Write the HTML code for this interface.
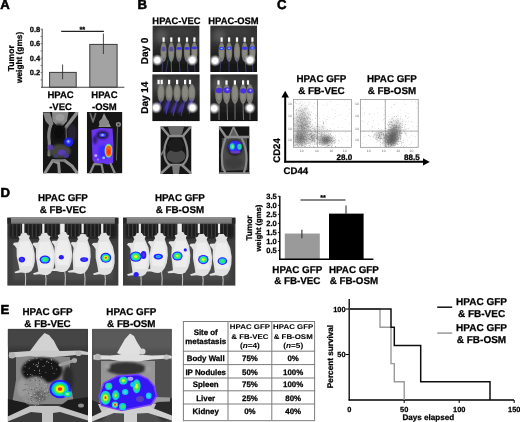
<!DOCTYPE html>
<html><head><meta charset="utf-8"><style>
html,body{margin:0;padding:0;background:#fff;}
svg{display:block;}
</style></head><body>
<svg width="520" height="422" viewBox="0 0 520 422" font-family="Liberation Sans" text-rendering="geometricPrecision">
<defs><filter id="gb" x="0" y="0" width="100%" height="100%" filterUnits="userSpaceOnUse"><feGaussianBlur stdDeviation="0.4"/></filter></defs>
<g filter="url(#gb)">
<rect x="0" y="0" width="520" height="422" fill="#fff"/>
<defs>
<filter id="b05" x="-50%" y="-50%" width="200%" height="200%"><feGaussianBlur stdDeviation="0.5"/></filter>
<filter id="b1" x="-50%" y="-50%" width="200%" height="200%"><feGaussianBlur stdDeviation="0.9"/></filter>
<filter id="b2" x="-50%" y="-50%" width="200%" height="200%"><feGaussianBlur stdDeviation="1.6"/></filter>
<filter id="b3" x="-50%" y="-50%" width="200%" height="200%"><feGaussianBlur stdDeviation="2.8"/></filter>
<radialGradient id="glow"><stop offset="0" stop-color="#fff"/><stop offset="0.45" stop-color="#fff"/><stop offset="0.7" stop-color="#ddd" stop-opacity="0.6"/><stop offset="1" stop-color="#bbb" stop-opacity="0"/></radialGradient>
<linearGradient id="hazeB" x1="0" y1="0" x2="0" y2="1"><stop offset="0" stop-color="#2e2e2e"/><stop offset="0.3" stop-color="#383838"/><stop offset="0.55" stop-color="#262626"/><stop offset="1" stop-color="#111"/></linearGradient>
<clipPath id="cA1"><rect x="42.8" y="111.9" width="35.5" height="61.5"/></clipPath>
<clipPath id="cA2"><rect x="86.8" y="111.9" width="35.6" height="61.5"/></clipPath>
<clipPath id="cB1"><rect x="152.4" y="25.4" width="47.2" height="46.6"/></clipPath>
<clipPath id="cB2"><rect x="210.2" y="25.4" width="47.0" height="46.6"/></clipPath>
<clipPath id="cB3"><rect x="152.2" y="74.2" width="47.6" height="47.1"/></clipPath>
<clipPath id="cB4"><rect x="210.2" y="74.2" width="47.6" height="47.1"/></clipPath>
<clipPath id="cB5"><rect x="160.4" y="126.2" width="31.1" height="47.8"/></clipPath>
<clipPath id="cB6"><rect x="218.8" y="126.2" width="30.8" height="47.8"/></clipPath>
<clipPath id="cD1"><rect x="7.2" y="217.4" width="111.4" height="68.4"/></clipPath>
<clipPath id="cD2"><rect x="123.0" y="217.4" width="112.6" height="68.4"/></clipPath>
<clipPath id="cE1"><rect x="7.7" y="328.8" width="80.3" height="93.2"/></clipPath>
<clipPath id="cE2"><rect x="92.0" y="328.8" width="79.9" height="93.2"/></clipPath>
</defs>
<g clip-path="url(#cA1)">
<rect x="42.80" y="111.90" width="35.50" height="61.50" fill="#151515" />
<g filter="url(#b05)">
<path d="M52,112 L68.5,112 L67,121 L62.5,126 L57,126 L52.5,121 Z" fill="#8a8a8a" />
<ellipse cx="60.00" cy="117.50" rx="4.50" ry="3.50" fill="#9c9c9c" />
<path d="M43,112.5 L50,112.5 L53.5,124 L50.5,127 L45.5,121 Z" fill="#838383" />
</g>
<g filter="url(#b05)">
<path d="M76.8,113 L66.3,127" fill="none" stroke="#8e8e8e" stroke-width="3.6" stroke-linecap="round" stroke-linejoin="round" />
<path d="M50.8,125 Q47.8,133 49.2,141 Q50,148 49,155" fill="none" stroke="#828282" stroke-width="3.2" stroke-linecap="round" stroke-linejoin="round" />
<path d="M66,127 L66.5,140" fill="none" stroke="#707070" stroke-width="1.4" stroke-linecap="round" stroke-linejoin="round" />
<path d="M44.5,173.8 L52.8,160.5 L58.6,163 L59.4,173" fill="none" stroke="#909090" stroke-width="3.0" stroke-linecap="round" stroke-linejoin="round" />
<path d="M64.5,160.5 L72,166 L77.8,173.8" fill="none" stroke="#909090" stroke-width="3.0" stroke-linecap="round" stroke-linejoin="round" />
<path d="M52.8,160.5 L64.5,160.5" fill="none" stroke="#808080" stroke-width="2.4" stroke-linecap="round" stroke-linejoin="round" />
</g>
<g filter="url(#b1)">
<ellipse cx="59.00" cy="132.00" rx="6.00" ry="8.00" fill="#0c0c0c" />
<ellipse cx="60.00" cy="151.00" rx="11.00" ry="7.00" fill="#45453a" />
<ellipse cx="72.00" cy="133.00" rx="5.00" ry="9.00" fill="#28222e" />
</g>
<g filter="url(#b05)" opacity="0.85">
<ellipse cx="50.30" cy="147.50" rx="3.00" ry="3.00" fill="#5638b8" />
<ellipse cx="61.90" cy="152.40" rx="4.00" ry="3.00" fill="#5a3ac8" />
<ellipse cx="66.00" cy="155.50" rx="3.00" ry="2.40" fill="#4a34a8" />
<ellipse cx="56.00" cy="156.00" rx="2.50" ry="2.00" fill="#404078" />
</g>
<g filter="url(#b05)">
<ellipse cx="68.60" cy="142.10" rx="4.60" ry="4.60" fill="#1e1ee8" />
<ellipse cx="68.40" cy="141.60" rx="2.20" ry="2.20" fill="#5060ff" />
<ellipse cx="68.30" cy="141.30" rx="0.90" ry="0.90" fill="#c0d0ff" />
</g>
</g>
<g clip-path="url(#cA2)">
<rect x="86.80" y="111.90" width="35.60" height="61.50" fill="#171717" />
<g filter="url(#b05)">
<path d="M104,113 L111,127 L98.5,127 Z" fill="#939393" />
<ellipse cx="104.00" cy="122.50" rx="5.00" ry="4.00" fill="#888" />
<path d="M90.3,113.5 L93,122 L95.6,113.5" fill="none" stroke="#6e6e6e" stroke-width="1.6" stroke-linecap="round" stroke-linejoin="round" />
<ellipse cx="118.40" cy="124.40" rx="2.60" ry="2.40" fill="#8a8a8a" />
<ellipse cx="118.40" cy="124.40" rx="1.10" ry="1.00" fill="#2a2a2a" />
<path d="M117.5,126.5 L116.5,160" fill="none" stroke="#5a6a5a" stroke-width="1.0" stroke-linecap="round" stroke-linejoin="round" />
</g>
<g filter="url(#b05)">
<path d="M91.5,130 L100,128 L112.5,128.5 L113.5,145 L113.2,163 L108,164.5 L101.5,163 L95,164 L92.5,160 L92,145 Z" fill="#6a36f0" />
</g>
<g filter="url(#b1)">
<ellipse cx="102.50" cy="135.00" rx="6.00" ry="4.00" fill="#1a1238" />
<ellipse cx="103.00" cy="152.00" rx="5.00" ry="7.00" fill="#3a2cff" />
<ellipse cx="95.00" cy="140.00" rx="2.20" ry="4.00" fill="#2a1a70" />
</g>
<g filter="url(#b05)">
<ellipse cx="102.50" cy="135.00" rx="3.50" ry="2.00" fill="#3a40ff" />
<ellipse cx="102.50" cy="135.00" rx="1.40" ry="0.90" fill="#a0b0ff" />
<ellipse cx="108.50" cy="150.80" rx="4.00" ry="7.00" fill="#30d0e0" />
<ellipse cx="108.50" cy="150.80" rx="3.50" ry="6.40" fill="#c0e040" />
<ellipse cx="108.60" cy="151.00" rx="2.90" ry="5.60" fill="#ff6018" />
<ellipse cx="108.80" cy="152.00" rx="1.60" ry="2.40" fill="#ff3010" />
<ellipse cx="95.80" cy="155.40" rx="1.50" ry="1.50" fill="#b8a8ff" />
<ellipse cx="103.70" cy="157.80" rx="1.40" ry="1.40" fill="#80c8ff" />
<ellipse cx="97.90" cy="159.50" rx="1.00" ry="1.00" fill="#a090ff" />
</g>
<g filter="url(#b05)">
<path d="M90,173.5 L94.1,164 L101.6,164.5 L103.3,173.5" fill="none" stroke="#8a8a8a" stroke-width="2.2" stroke-linecap="round" stroke-linejoin="round" />
<path d="M110.7,164 L114.9,173.5" fill="none" stroke="#8a8a8a" stroke-width="2.2" stroke-linecap="round" stroke-linejoin="round" />
</g>
</g>
<g clip-path="url(#cB1)">
<rect x="152.40" y="25.40" width="47.20" height="46.60" fill="url(#hazeB)" />
<g filter="url(#b3)">
<ellipse cx="161.40" cy="35.40" rx="6.00" ry="7.00" fill="#555" />
<ellipse cx="180.00" cy="31.40" rx="14.00" ry="4.00" fill="#3c3c3c" />
</g>
<g filter="url(#b05)">
<ellipse cx="163.60" cy="52.00" rx="3.10" ry="10.00" fill="#7a7972" />
<ellipse cx="163.60" cy="51.00" rx="2.07" ry="7.00" fill="#8a8980" />
<ellipse cx="171.30" cy="52.00" rx="3.10" ry="10.00" fill="#7a7972" />
<ellipse cx="171.30" cy="51.00" rx="2.07" ry="7.00" fill="#8a8980" />
<ellipse cx="179.00" cy="52.00" rx="3.10" ry="10.00" fill="#7a7972" />
<ellipse cx="179.00" cy="51.00" rx="2.07" ry="7.00" fill="#8a8980" />
<ellipse cx="187.00" cy="52.00" rx="3.10" ry="10.00" fill="#7a7972" />
<ellipse cx="187.00" cy="51.00" rx="2.07" ry="7.00" fill="#8a8980" />
<ellipse cx="194.40" cy="52.00" rx="3.10" ry="10.00" fill="#7a7972" />
<ellipse cx="194.40" cy="51.00" rx="2.07" ry="7.00" fill="#8a8980" />
</g>
<g filter="url(#b05)">
<line x1="163.00" y1="58.00" x2="162.00" y2="72.00" stroke="#54509a" stroke-width="0.7"/>
<line x1="171.00" y1="56.00" x2="171.50" y2="72.00" stroke="#50b0a0" stroke-width="0.6"/>
<line x1="179.00" y1="58.00" x2="180.00" y2="72.00" stroke="#4a48c0" stroke-width="0.8"/>
<line x1="187.00" y1="58.00" x2="188.00" y2="72.00" stroke="#4a48b0" stroke-width="0.8"/>
<line x1="194.00" y1="58.00" x2="195.00" y2="72.00" stroke="#55558a" stroke-width="0.6"/>
<line x1="168.00" y1="60.00" x2="166.00" y2="72.00" stroke="#5a4a90" stroke-width="0.6"/>
</g>
<g filter="url(#b1)">
</g>
<g filter="url(#b05)">
<ellipse cx="163.60" cy="49.00" rx="2.20" ry="2.60" fill="#5a52a0" />
<ellipse cx="171.30" cy="49.00" rx="2.20" ry="2.60" fill="#55509a" />
<ellipse cx="179.00" cy="48.50" rx="2.80" ry="1.40" fill="#3a38e0" />
<ellipse cx="187.00" cy="48.50" rx="2.80" ry="1.40" fill="#3a38e0" />
<ellipse cx="194.40" cy="48.00" rx="2.80" ry="1.40" fill="#3a38e0" />
</g>
<g filter="url(#b05)">
<rect x="162.50" y="37.40" width="2.20" height="4.40" fill="#fafafa" />
<rect x="170.20" y="37.40" width="2.20" height="4.40" fill="#fafafa" />
<rect x="177.90" y="37.40" width="2.20" height="4.40" fill="#fafafa" />
<rect x="185.90" y="37.40" width="2.20" height="4.40" fill="#fafafa" />
<rect x="193.30" y="37.40" width="2.20" height="4.40" fill="#fafafa" />
</g>
<ellipse cx="157.30" cy="60.20" rx="6.05" ry="6.05" fill="url(#glow)" />
<ellipse cx="192.20" cy="60.20" rx="6.05" ry="6.05" fill="url(#glow)" />
</g>
<g clip-path="url(#cB2)">
<rect x="210.20" y="25.40" width="47.00" height="46.60" fill="url(#hazeB)" />
<g filter="url(#b3)">
<ellipse cx="219.20" cy="35.40" rx="6.00" ry="7.00" fill="#555" />
<ellipse cx="237.70" cy="31.40" rx="14.00" ry="4.00" fill="#3c3c3c" />
</g>
<g filter="url(#b05)">
<ellipse cx="221.60" cy="52.00" rx="3.10" ry="10.00" fill="#7a7972" />
<ellipse cx="221.60" cy="51.00" rx="2.07" ry="7.00" fill="#8a8980" />
<ellipse cx="229.10" cy="52.00" rx="3.10" ry="10.00" fill="#7a7972" />
<ellipse cx="229.10" cy="51.00" rx="2.07" ry="7.00" fill="#8a8980" />
<ellipse cx="237.00" cy="52.00" rx="3.10" ry="10.00" fill="#7a7972" />
<ellipse cx="237.00" cy="51.00" rx="2.07" ry="7.00" fill="#8a8980" />
<ellipse cx="244.70" cy="52.00" rx="3.10" ry="10.00" fill="#7a7972" />
<ellipse cx="244.70" cy="51.00" rx="2.07" ry="7.00" fill="#8a8980" />
<ellipse cx="252.40" cy="52.00" rx="3.10" ry="10.00" fill="#7a7972" />
<ellipse cx="252.40" cy="51.00" rx="2.07" ry="7.00" fill="#8a8980" />
</g>
<g filter="url(#b05)">
<line x1="221.00" y1="58.00" x2="220.00" y2="72.00" stroke="#50509a" stroke-width="0.6"/>
<line x1="229.00" y1="58.00" x2="229.00" y2="72.00" stroke="#4a4ab0" stroke-width="0.6"/>
<line x1="237.00" y1="58.00" x2="238.00" y2="72.00" stroke="#4a48c0" stroke-width="0.8"/>
<line x1="245.00" y1="58.00" x2="246.00" y2="72.00" stroke="#4a48b0" stroke-width="0.8"/>
<line x1="252.00" y1="58.00" x2="253.00" y2="72.00" stroke="#5a5a8a" stroke-width="0.6"/>
</g>
<g filter="url(#b1)">
</g>
<g filter="url(#b05)">
<ellipse cx="221.60" cy="48.50" rx="2.80" ry="1.70" fill="#3a38f0" />
<ellipse cx="229.10" cy="48.30" rx="2.80" ry="1.70" fill="#3a38f0" />
<ellipse cx="244.70" cy="48.30" rx="2.80" ry="1.70" fill="#3a38f0" />
<ellipse cx="252.40" cy="48.00" rx="2.80" ry="1.70" fill="#3a38f0" />
<ellipse cx="221.60" cy="48.50" rx="1.20" ry="0.70" fill="#60c8ff" />
<ellipse cx="229.10" cy="48.30" rx="1.20" ry="0.70" fill="#60c8ff" />
<ellipse cx="252.40" cy="48.00" rx="1.20" ry="0.70" fill="#60c8ff" />
</g>
<g filter="url(#b05)">
<rect x="220.50" y="37.40" width="2.20" height="4.40" fill="#fafafa" />
<rect x="228.00" y="37.40" width="2.20" height="4.40" fill="#fafafa" />
<rect x="235.90" y="37.40" width="2.20" height="4.40" fill="#fafafa" />
<rect x="243.60" y="37.40" width="2.20" height="4.40" fill="#fafafa" />
<rect x="251.30" y="37.40" width="2.20" height="4.40" fill="#fafafa" />
</g>
<ellipse cx="215.10" cy="60.70" rx="6.05" ry="6.05" fill="url(#glow)" />
<ellipse cx="250.00" cy="60.20" rx="6.05" ry="6.05" fill="url(#glow)" />
</g>
<g clip-path="url(#cB3)">
<rect x="152.20" y="74.20" width="47.60" height="47.10" fill="url(#hazeB)" />
<g filter="url(#b3)">
<ellipse cx="161.20" cy="84.20" rx="6.00" ry="7.00" fill="#555" />
<ellipse cx="180.00" cy="80.20" rx="14.00" ry="4.00" fill="#3c3c3c" />
</g>
<g filter="url(#b05)">
<ellipse cx="161.00" cy="93.00" rx="3.60" ry="9.00" fill="#7a7972" />
<ellipse cx="161.00" cy="92.00" rx="2.40" ry="6.00" fill="#8a8980" />
<ellipse cx="169.10" cy="93.00" rx="3.60" ry="9.00" fill="#7a7972" />
<ellipse cx="169.10" cy="92.00" rx="2.40" ry="6.00" fill="#8a8980" />
<ellipse cx="177.10" cy="93.00" rx="3.60" ry="9.00" fill="#7a7972" />
<ellipse cx="177.10" cy="92.00" rx="2.40" ry="6.00" fill="#8a8980" />
<ellipse cx="185.10" cy="93.00" rx="3.60" ry="9.00" fill="#7a7972" />
<ellipse cx="185.10" cy="92.00" rx="2.40" ry="6.00" fill="#8a8980" />
<ellipse cx="191.80" cy="93.00" rx="3.60" ry="9.00" fill="#7a7972" />
<ellipse cx="191.80" cy="92.00" rx="2.40" ry="6.00" fill="#8a8980" />
</g>
<g filter="url(#b05)">
<line x1="161.00" y1="100.00" x2="158.00" y2="112.00" stroke="#5a50b0" stroke-width="0.8"/>
<line x1="169.00" y1="100.00" x2="166.00" y2="114.00" stroke="#5048c0" stroke-width="0.9"/>
<line x1="177.00" y1="100.00" x2="173.00" y2="116.00" stroke="#5048b8" stroke-width="0.9"/>
<line x1="185.00" y1="100.00" x2="181.00" y2="116.00" stroke="#5048b0" stroke-width="0.8"/>
<line x1="192.00" y1="100.00" x2="189.00" y2="114.00" stroke="#5a50b8" stroke-width="0.8"/>
</g>
<g filter="url(#b1)">
<ellipse cx="158" cy="106" rx="1.3" ry="4" fill="#5a48c8" transform="rotate(25 158 106)"/>
<ellipse cx="167" cy="106" rx="1.8" ry="6" fill="#4a38c8" transform="rotate(20 167 106)"/>
<ellipse cx="174" cy="108" rx="1.6" ry="6" fill="#4a38b0" transform="rotate(25 174 108)"/>
<ellipse cx="181" cy="108" rx="1.6" ry="6" fill="#4a38b0" transform="rotate(25 181 108)"/>
<ellipse cx="190" cy="104" rx="1.6" ry="5" fill="#5a48c8" transform="rotate(20 190 104)"/>
</g>
<g filter="url(#b05)">
</g>
<g filter="url(#b05)">
<rect x="157.50" y="79.80" width="2.20" height="4.40" fill="#fafafa" />
<rect x="160.60" y="79.80" width="2.20" height="4.40" fill="#fafafa" />
<rect x="168.00" y="79.80" width="2.20" height="4.40" fill="#fafafa" />
<rect x="176.00" y="79.80" width="2.20" height="4.40" fill="#fafafa" />
<rect x="184.00" y="79.80" width="2.20" height="4.40" fill="#fafafa" />
<rect x="188.90" y="79.80" width="2.20" height="4.40" fill="#fafafa" />
</g>
<ellipse cx="156.20" cy="107.70" rx="6.05" ry="6.05" fill="url(#glow)" />
<ellipse cx="192.50" cy="107.70" rx="6.05" ry="6.05" fill="url(#glow)" />
</g>
<g clip-path="url(#cB4)">
<rect x="210.20" y="74.20" width="47.60" height="47.10" fill="url(#hazeB)" />
<g filter="url(#b3)">
<ellipse cx="219.20" cy="84.20" rx="6.00" ry="7.00" fill="#555" />
<ellipse cx="238.00" cy="80.20" rx="14.00" ry="4.00" fill="#3c3c3c" />
</g>
<g filter="url(#b05)">
<ellipse cx="218.80" cy="94.00" rx="3.60" ry="10.00" fill="#7a7972" />
<ellipse cx="218.80" cy="93.00" rx="2.40" ry="7.00" fill="#8a8980" />
<ellipse cx="226.60" cy="94.00" rx="3.60" ry="10.00" fill="#7a7972" />
<ellipse cx="226.60" cy="93.00" rx="2.40" ry="7.00" fill="#8a8980" />
<ellipse cx="234.90" cy="94.00" rx="3.60" ry="10.00" fill="#7a7972" />
<ellipse cx="234.90" cy="93.00" rx="2.40" ry="7.00" fill="#8a8980" />
<ellipse cx="243.10" cy="94.00" rx="3.60" ry="10.00" fill="#7a7972" />
<ellipse cx="243.10" cy="93.00" rx="2.40" ry="7.00" fill="#8a8980" />
<ellipse cx="249.80" cy="94.00" rx="3.60" ry="10.00" fill="#7a7972" />
<ellipse cx="249.80" cy="93.00" rx="2.40" ry="7.00" fill="#8a8980" />
</g>
<g filter="url(#b05)">
<line x1="219.00" y1="102.00" x2="219.00" y2="120.00" stroke="#8a8a8a" stroke-width="0.8"/>
<line x1="227.00" y1="102.00" x2="227.50" y2="120.00" stroke="#8a8a8a" stroke-width="0.8"/>
<line x1="235.00" y1="102.00" x2="235.00" y2="120.00" stroke="#8a8a8a" stroke-width="0.8"/>
<line x1="243.00" y1="102.00" x2="243.50" y2="120.00" stroke="#8a8a8a" stroke-width="0.8"/>
<line x1="250.00" y1="102.00" x2="250.00" y2="120.00" stroke="#7a7a7a" stroke-width="0.8"/>
</g>
<g filter="url(#b1)">
</g>
<g filter="url(#b05)">
<ellipse cx="219.00" cy="90.50" rx="3.40" ry="2.80" fill="#4a30dc" />
<ellipse cx="227.00" cy="90.20" rx="3.60" ry="3.00" fill="#4a30dc" />
<ellipse cx="243.30" cy="90.80" rx="3.20" ry="2.60" fill="#4a30dc" />
<ellipse cx="250.00" cy="90.80" rx="3.00" ry="2.60" fill="#4a30dc" />
<ellipse cx="227.50" cy="89.50" rx="1.20" ry="1.00" fill="#a0c0ff" />
<ellipse cx="250.50" cy="90.50" rx="1.00" ry="1.00" fill="#a0c0ff" />
</g>
<g filter="url(#b05)">
<rect x="217.40" y="80.30" width="2.20" height="4.40" fill="#fafafa" />
<rect x="225.40" y="80.30" width="2.20" height="4.40" fill="#fafafa" />
<rect x="233.80" y="80.30" width="2.20" height="4.40" fill="#fafafa" />
<rect x="242.00" y="80.30" width="2.20" height="4.40" fill="#fafafa" />
<rect x="246.90" y="80.30" width="2.20" height="4.40" fill="#fafafa" />
</g>
<ellipse cx="214.20" cy="108.40" rx="6.05" ry="6.05" fill="url(#glow)" />
<ellipse cx="249.90" cy="108.00" rx="6.05" ry="6.05" fill="url(#glow)" />
</g>
<g clip-path="url(#cB5)">
<rect x="160.40" y="126.20" width="31.10" height="47.80" fill="#121212" />
<g filter="url(#b05)">
<ellipse cx="176.00" cy="156.00" rx="9.50" ry="7.00" fill="#4a4a4a" />
<ellipse cx="176.00" cy="145.00" rx="8.00" ry="7.00" fill="#1c1c1c" />
<path d="M168,127 L184,127 L182,134 L176,137 L170,134 Z" fill="#6a6a6a" />
<path d="M161.5,127 L169,136 L183,136 L190.5,127" fill="none" stroke="#8c8c8c" stroke-width="2.6" stroke-linecap="round" stroke-linejoin="round" />
<path d="M169,136 Q163,146 164.5,156 Q166,163 170,165" fill="none" stroke="#8a8a8a" stroke-width="2.2" stroke-linecap="round" stroke-linejoin="round" />
<path d="M183,136 Q188,146 187.5,156 Q186,163 182,165" fill="none" stroke="#8a8a8a" stroke-width="2.2" stroke-linecap="round" stroke-linejoin="round" />
<path d="M161,173.5 L170,165 L182,165 L191,173.5" fill="none" stroke="#8c8c8c" stroke-width="2.6" stroke-linecap="round" stroke-linejoin="round" />
<path d="M164,150 L161,155" fill="none" stroke="#7a7a7a" stroke-width="1.6" stroke-linecap="round" stroke-linejoin="round" />
<path d="M172,165 L180,165 L179,174 L173,174 Z" fill="#7a7a7a" />
</g>
</g>
<g clip-path="url(#cB6)">
<rect x="218.80" y="126.20" width="30.80" height="47.80" fill="#141414" />
<g filter="url(#b05)">
<path d="M222,138 L247,137 L247.5,170 L221,171 Z" fill="#4a4a4a" />
<path d="M228.5,138 L233.5,126.8 L239,138 Z" fill="#5e5e5e" />
<path d="M228.5,138 L233.5,126.8 L239,138" fill="none" stroke="#8a8a8a" stroke-width="1.6" stroke-linecap="round" stroke-linejoin="round" />
<path d="M219.5,127.5 L226,137 L241,137 L249.5,137" fill="none" stroke="#8c8c8c" stroke-width="2.4" stroke-linecap="round" stroke-linejoin="round" />
<path d="M226,137 Q221,150 222,160 Q222,168 225,172" fill="none" stroke="#8a8a8a" stroke-width="2.2" stroke-linecap="round" stroke-linejoin="round" />
<path d="M241,137 Q247,148 246.5,160 Q246,168 244,172" fill="none" stroke="#8a8a8a" stroke-width="2.2" stroke-linecap="round" stroke-linejoin="round" />
<path d="M220,173.5 L249,173.5" fill="none" stroke="#909090" stroke-width="2.5" stroke-linecap="round" stroke-linejoin="round" />
</g>
<g filter="url(#b1)">
<ellipse cx="235.00" cy="148.00" rx="8.00" ry="8.00" fill="#202020" />
<ellipse cx="234.00" cy="163.00" rx="9.00" ry="6.00" fill="#3e3e3e" />
</g>
<g filter="url(#b05)">
<ellipse cx="235.10" cy="147.00" rx="7.00" ry="6.50" fill="#3a2ae0" />
<ellipse cx="235.10" cy="147.00" rx="5.50" ry="5.00" fill="#2a30ff" />
<ellipse cx="232.30" cy="146.50" rx="2.40" ry="3.20" fill="#20d0c0" />
<ellipse cx="239.50" cy="146.80" rx="2.20" ry="3.00" fill="#20d0b0" />
<ellipse cx="232.50" cy="146.50" rx="1.20" ry="1.60" fill="#80f080" />
<ellipse cx="235.50" cy="152.00" rx="5.00" ry="1.60" fill="#6a3ac0" />
</g>
</g>
<g clip-path="url(#cD1)">
<rect x="7.20" y="217.40" width="111.40" height="68.40" fill="#3e3e3e" />
<g filter="url(#b2)">
<rect x="9.20" y="223.40" width="107.40" height="15.00" fill="#1a1a1a" />
<rect x="13.20" y="247.40" width="99.40" height="32.40" fill="#4c4c4c" />
</g>
<rect x="12.20" y="223.90" width="1.30" height="13.00" fill="#3c3c3c" />
<rect x="16.10" y="223.90" width="1.30" height="13.00" fill="#3c3c3c" />
<rect x="20.00" y="223.90" width="1.30" height="13.00" fill="#3c3c3c" />
<rect x="23.90" y="223.90" width="1.30" height="13.00" fill="#3c3c3c" />
<rect x="27.80" y="223.90" width="1.30" height="13.00" fill="#3c3c3c" />
<rect x="31.70" y="223.90" width="1.30" height="13.00" fill="#3c3c3c" />
<rect x="35.60" y="223.90" width="1.30" height="13.00" fill="#3c3c3c" />
<rect x="39.50" y="223.90" width="1.30" height="13.00" fill="#3c3c3c" />
<rect x="43.40" y="223.90" width="1.30" height="13.00" fill="#3c3c3c" />
<rect x="47.30" y="223.90" width="1.30" height="13.00" fill="#3c3c3c" />
<rect x="51.20" y="223.90" width="1.30" height="13.00" fill="#3c3c3c" />
<rect x="55.10" y="223.90" width="1.30" height="13.00" fill="#3c3c3c" />
<rect x="59.00" y="223.90" width="1.30" height="13.00" fill="#3c3c3c" />
<rect x="62.90" y="223.90" width="1.30" height="13.00" fill="#3c3c3c" />
<rect x="66.80" y="223.90" width="1.30" height="13.00" fill="#3c3c3c" />
<rect x="70.70" y="223.90" width="1.30" height="13.00" fill="#3c3c3c" />
<rect x="74.60" y="223.90" width="1.30" height="13.00" fill="#3c3c3c" />
<rect x="78.50" y="223.90" width="1.30" height="13.00" fill="#3c3c3c" />
<rect x="82.40" y="223.90" width="1.30" height="13.00" fill="#3c3c3c" />
<rect x="86.30" y="223.90" width="1.30" height="13.00" fill="#3c3c3c" />
<rect x="90.20" y="223.90" width="1.30" height="13.00" fill="#3c3c3c" />
<rect x="94.10" y="223.90" width="1.30" height="13.00" fill="#3c3c3c" />
<rect x="98.00" y="223.90" width="1.30" height="13.00" fill="#3c3c3c" />
<rect x="101.90" y="223.90" width="1.30" height="13.00" fill="#3c3c3c" />
<rect x="105.80" y="223.90" width="1.30" height="13.00" fill="#3c3c3c" />
<rect x="109.70" y="223.90" width="1.30" height="13.00" fill="#3c3c3c" />
<rect x="7.20" y="217.40" width="111.40" height="6.30" fill="#262626" />
<rect x="11.00" y="217.40" width="103.80" height="6.30" fill="#7e7e7e" />
<rect x="11.00" y="217.40" width="103.80" height="1.50" fill="#8e8e8e" />
<rect x="11.00" y="222.70" width="103.80" height="1.00" fill="#5a5a5a" />
<rect x="22.10" y="223.70" width="2.20" height="9.50" fill="#ececec" />
<rect x="42.20" y="223.70" width="2.20" height="9.50" fill="#ececec" />
<rect x="60.15" y="223.70" width="4.50" height="9.50" fill="#ececec" />
<rect x="81.50" y="223.70" width="2.20" height="9.50" fill="#ececec" />
<rect x="101.10" y="223.70" width="2.20" height="9.50" fill="#ececec" />
<g filter="url(#b05)">
<path d="M24.8,269.0 Q26.3,278.0 25.3,286.8" fill="none" stroke="#c8c8c8" stroke-width="1"/>
<path d="M-2.2,0 L2.2,0 L3.6,2.5 L5.5,3 L4.5,5.5 L5.5,8 L7.5,13 L8.5,21 L8,28 L6.5,33 L4,37 L1,38.5 L-2,38.5 L-6,37.5 L-11,37.8 L-12,36.5 L-7,35 L-7.5,30 L-8.5,22 L-8,14 L-9.5,11.5 L-11,10 L-10,8.5 L-6,8.5 L-4.5,5.5 L-5.5,3 L-3.6,2.5 Z" fill="#e2e2e2" transform="translate(23.80,233.00) rotate(-5) scale(1.070,1.040)"/>
<path d="M-4,8 L4,8 L7,20 L5,32 L-5,32 L-7,20 Z" fill="#ededed" transform="translate(23.80,233.00) rotate(-5) scale(1.070,1.040)"/>
<path d="M45.2,270.8 Q46.7,280.2 45.7,286.8" fill="none" stroke="#c8c8c8" stroke-width="1"/>
<path d="M-2.2,0 L2.2,0 L3.6,2.5 L5.5,3 L4.5,5.5 L5.5,8 L7.5,13 L8.5,21 L8,28 L6.5,33 L4,37 L1,38.5 L-2,38.5 L-6,37.5 L-11,37.8 L-12,36.5 L-7,35 L-7.5,30 L-8.5,22 L-8,14 L-9.5,11.5 L-11,10 L-10,8.5 L-6,8.5 L-4.5,5.5 L-5.5,3 L-3.6,2.5 Z" fill="#e2e2e2" transform="translate(44.20,233.00) rotate(-3) scale(1.124,1.092)"/>
<path d="M-4,8 L4,8 L7,20 L5,32 L-5,32 L-7,20 Z" fill="#ededed" transform="translate(44.20,233.00) rotate(-3) scale(1.124,1.092)"/>
<path d="M64.5,268.0 Q66.0,277.0 65.0,286.8" fill="none" stroke="#c8c8c8" stroke-width="1"/>
<path d="M-2.2,0 L2.2,0 L3.6,2.5 L5.5,3 L4.5,5.5 L5.5,8 L7.5,13 L8.5,21 L8,28 L6.5,33 L4,37 L1,38.5 L-2,38.5 L-6,37.5 L-11,37.8 L-12,36.5 L-7,35 L-7.5,30 L-8.5,22 L-8,14 L-9.5,11.5 L-11,10 L-10,8.5 L-6,8.5 L-4.5,5.5 L-5.5,3 L-3.6,2.5 Z" fill="#e2e2e2" transform="translate(63.50,232.00) rotate(1) scale(1.070,1.040)"/>
<path d="M-4,8 L4,8 L7,20 L5,32 L-5,32 L-7,20 Z" fill="#ededed" transform="translate(63.50,232.00) rotate(1) scale(1.070,1.040)"/>
<path d="M84.2,270.0 Q85.7,279.0 84.7,286.8" fill="none" stroke="#c8c8c8" stroke-width="1"/>
<path d="M-2.2,0 L2.2,0 L3.6,2.5 L5.5,3 L4.5,5.5 L5.5,8 L7.5,13 L8.5,21 L8,28 L6.5,33 L4,37 L1,38.5 L-2,38.5 L-6,37.5 L-11,37.8 L-12,36.5 L-7,35 L-7.5,30 L-8.5,22 L-8,14 L-9.5,11.5 L-11,10 L-10,8.5 L-6,8.5 L-4.5,5.5 L-5.5,3 L-3.6,2.5 Z" fill="#e2e2e2" transform="translate(83.20,234.00) rotate(4) scale(1.070,1.040)"/>
<path d="M-4,8 L4,8 L7,20 L5,32 L-5,32 L-7,20 Z" fill="#ededed" transform="translate(83.20,234.00) rotate(4) scale(1.070,1.040)"/>
<path d="M104.5,270.8 Q106.0,280.2 105.0,286.8" fill="none" stroke="#c8c8c8" stroke-width="1"/>
<path d="M-2.2,0 L2.2,0 L3.6,2.5 L5.5,3 L4.5,5.5 L5.5,8 L7.5,13 L8.5,21 L8,28 L6.5,33 L4,37 L1,38.5 L-2,38.5 L-6,37.5 L-11,37.8 L-12,36.5 L-7,35 L-7.5,30 L-8.5,22 L-8,14 L-9.5,11.5 L-11,10 L-10,8.5 L-6,8.5 L-4.5,5.5 L-5.5,3 L-3.6,2.5 Z" fill="#e2e2e2" transform="translate(103.50,233.00) rotate(-4) scale(1.124,1.092)"/>
<path d="M-4,8 L4,8 L7,20 L5,32 L-5,32 L-7,20 Z" fill="#ededed" transform="translate(103.50,233.00) rotate(-4) scale(1.124,1.092)"/>
</g>
<g filter="url(#b05)">
<ellipse cx="21.90" cy="259.60" rx="3.20" ry="2.80" fill="#2a1cff" />
<ellipse cx="21.90" cy="259.60" rx="1.60" ry="1.40" fill="#3a3aff" />
</g>
<g filter="url(#b05)">
<ellipse cx="45.00" cy="259.60" rx="5.40" ry="4.00" fill="#2a1cff" />
<ellipse cx="45.00" cy="259.60" rx="3.89" ry="2.88" fill="#10c0ff" />
<ellipse cx="45.00" cy="259.60" rx="2.70" ry="2.00" fill="#30f060" />
</g>
<g filter="url(#b05)">
<ellipse cx="61.30" cy="257.30" rx="2.60" ry="2.20" fill="#2a1cff" />
</g>
<g filter="url(#b05)">
<ellipse cx="84.20" cy="259.60" rx="4.00" ry="2.40" fill="#2a1cff" />
<ellipse cx="84.20" cy="259.60" rx="2.00" ry="1.20" fill="#4040f0" />
</g>
<g filter="url(#b05)">
<ellipse cx="105.80" cy="257.80" rx="5.40" ry="5.00" fill="#2a1cff" />
<ellipse cx="105.80" cy="257.80" rx="4.21" ry="3.90" fill="#10c0ff" />
<ellipse cx="105.80" cy="257.80" rx="3.35" ry="3.10" fill="#30f060" />
<ellipse cx="105.80" cy="257.80" rx="2.27" ry="2.10" fill="#f0f020" />
<ellipse cx="105.80" cy="257.80" rx="1.08" ry="1.00" fill="#ff3010" />
</g>
</g>
<g clip-path="url(#cD2)">
<rect x="123.00" y="217.40" width="112.60" height="68.40" fill="#3e3e3e" />
<g filter="url(#b2)">
<rect x="125.00" y="223.40" width="108.60" height="15.00" fill="#1a1a1a" />
<rect x="129.00" y="247.40" width="100.60" height="32.40" fill="#4c4c4c" />
</g>
<rect x="128.00" y="223.90" width="1.30" height="13.00" fill="#3c3c3c" />
<rect x="131.95" y="223.90" width="1.30" height="13.00" fill="#3c3c3c" />
<rect x="135.89" y="223.90" width="1.30" height="13.00" fill="#3c3c3c" />
<rect x="139.84" y="223.90" width="1.30" height="13.00" fill="#3c3c3c" />
<rect x="143.78" y="223.90" width="1.30" height="13.00" fill="#3c3c3c" />
<rect x="147.73" y="223.90" width="1.30" height="13.00" fill="#3c3c3c" />
<rect x="151.68" y="223.90" width="1.30" height="13.00" fill="#3c3c3c" />
<rect x="155.62" y="223.90" width="1.30" height="13.00" fill="#3c3c3c" />
<rect x="159.57" y="223.90" width="1.30" height="13.00" fill="#3c3c3c" />
<rect x="163.52" y="223.90" width="1.30" height="13.00" fill="#3c3c3c" />
<rect x="167.46" y="223.90" width="1.30" height="13.00" fill="#3c3c3c" />
<rect x="171.41" y="223.90" width="1.30" height="13.00" fill="#3c3c3c" />
<rect x="175.35" y="223.90" width="1.30" height="13.00" fill="#3c3c3c" />
<rect x="179.30" y="223.90" width="1.30" height="13.00" fill="#3c3c3c" />
<rect x="183.25" y="223.90" width="1.30" height="13.00" fill="#3c3c3c" />
<rect x="187.19" y="223.90" width="1.30" height="13.00" fill="#3c3c3c" />
<rect x="191.14" y="223.90" width="1.30" height="13.00" fill="#3c3c3c" />
<rect x="195.08" y="223.90" width="1.30" height="13.00" fill="#3c3c3c" />
<rect x="199.03" y="223.90" width="1.30" height="13.00" fill="#3c3c3c" />
<rect x="202.98" y="223.90" width="1.30" height="13.00" fill="#3c3c3c" />
<rect x="206.92" y="223.90" width="1.30" height="13.00" fill="#3c3c3c" />
<rect x="210.87" y="223.90" width="1.30" height="13.00" fill="#3c3c3c" />
<rect x="214.82" y="223.90" width="1.30" height="13.00" fill="#3c3c3c" />
<rect x="218.76" y="223.90" width="1.30" height="13.00" fill="#3c3c3c" />
<rect x="222.71" y="223.90" width="1.30" height="13.00" fill="#3c3c3c" />
<rect x="226.65" y="223.90" width="1.30" height="13.00" fill="#3c3c3c" />
<rect x="123.00" y="217.40" width="112.60" height="6.30" fill="#262626" />
<rect x="126.80" y="217.40" width="105.00" height="6.30" fill="#7e7e7e" />
<rect x="126.80" y="217.40" width="105.00" height="1.50" fill="#8e8e8e" />
<rect x="126.80" y="222.70" width="105.00" height="1.00" fill="#5a5a5a" />
<rect x="138.70" y="223.70" width="2.20" height="9.50" fill="#ececec" />
<rect x="158.30" y="223.70" width="2.20" height="9.50" fill="#ececec" />
<rect x="177.35" y="223.70" width="4.50" height="9.50" fill="#ececec" />
<rect x="197.70" y="223.70" width="2.20" height="9.50" fill="#ececec" />
<rect x="217.90" y="223.70" width="2.20" height="9.50" fill="#ececec" />
<g filter="url(#b05)">
<path d="M140.3,271.9 Q141.8,281.6 140.8,286.8" fill="none" stroke="#c8c8c8" stroke-width="1"/>
<path d="M-2.2,0 L2.2,0 L3.6,2.5 L5.5,3 L4.5,5.5 L5.5,8 L7.5,13 L8.5,21 L8,28 L6.5,33 L4,37 L1,38.5 L-2,38.5 L-6,37.5 L-11,37.8 L-12,36.5 L-7,35 L-7.5,30 L-8.5,22 L-8,14 L-9.5,11.5 L-11,10 L-10,8.5 L-6,8.5 L-4.5,5.5 L-5.5,3 L-3.6,2.5 Z" fill="#e2e2e2" transform="translate(139.30,233.00) rotate(-2) scale(1.156,1.123)"/>
<path d="M-4,8 L4,8 L7,20 L5,32 L-5,32 L-7,20 Z" fill="#ededed" transform="translate(139.30,233.00) rotate(-2) scale(1.156,1.123)"/>
<path d="M161.3,269.0 Q162.8,278.0 161.8,286.8" fill="none" stroke="#c8c8c8" stroke-width="1"/>
<path d="M-2.2,0 L2.2,0 L3.6,2.5 L5.5,3 L4.5,5.5 L5.5,8 L7.5,13 L8.5,21 L8,28 L6.5,33 L4,37 L1,38.5 L-2,38.5 L-6,37.5 L-11,37.8 L-12,36.5 L-7,35 L-7.5,30 L-8.5,22 L-8,14 L-9.5,11.5 L-11,10 L-10,8.5 L-6,8.5 L-4.5,5.5 L-5.5,3 L-3.6,2.5 Z" fill="#e2e2e2" transform="translate(160.30,233.00) rotate(4) scale(1.070,1.040)"/>
<path d="M-4,8 L4,8 L7,20 L5,32 L-5,32 L-7,20 Z" fill="#ededed" transform="translate(160.30,233.00) rotate(4) scale(1.070,1.040)"/>
<path d="M181.8,269.8 Q183.3,279.2 182.3,286.8" fill="none" stroke="#c8c8c8" stroke-width="1"/>
<path d="M-2.2,0 L2.2,0 L3.6,2.5 L5.5,3 L4.5,5.5 L5.5,8 L7.5,13 L8.5,21 L8,28 L6.5,33 L4,37 L1,38.5 L-2,38.5 L-6,37.5 L-11,37.8 L-12,36.5 L-7,35 L-7.5,30 L-8.5,22 L-8,14 L-9.5,11.5 L-11,10 L-10,8.5 L-6,8.5 L-4.5,5.5 L-5.5,3 L-3.6,2.5 Z" fill="#e2e2e2" transform="translate(180.80,232.00) rotate(0) scale(1.124,1.092)"/>
<path d="M-4,8 L4,8 L7,20 L5,32 L-5,32 L-7,20 Z" fill="#ededed" transform="translate(180.80,232.00) rotate(0) scale(1.124,1.092)"/>
<path d="M202.3,271.8 Q203.8,281.2 202.8,286.8" fill="none" stroke="#c8c8c8" stroke-width="1"/>
<path d="M-2.2,0 L2.2,0 L3.6,2.5 L5.5,3 L4.5,5.5 L5.5,8 L7.5,13 L8.5,21 L8,28 L6.5,33 L4,37 L1,38.5 L-2,38.5 L-6,37.5 L-11,37.8 L-12,36.5 L-7,35 L-7.5,30 L-8.5,22 L-8,14 L-9.5,11.5 L-11,10 L-10,8.5 L-6,8.5 L-4.5,5.5 L-5.5,3 L-3.6,2.5 Z" fill="#e2e2e2" transform="translate(201.30,234.00) rotate(-3) scale(1.124,1.092)"/>
<path d="M-4,8 L4,8 L7,20 L5,32 L-5,32 L-7,20 Z" fill="#ededed" transform="translate(201.30,234.00) rotate(-3) scale(1.124,1.092)"/>
<path d="M222.3,271.8 Q223.8,281.2 222.8,286.8" fill="none" stroke="#c8c8c8" stroke-width="1"/>
<path d="M-2.2,0 L2.2,0 L3.6,2.5 L5.5,3 L4.5,5.5 L5.5,8 L7.5,13 L8.5,21 L8,28 L6.5,33 L4,37 L1,38.5 L-2,38.5 L-6,37.5 L-11,37.8 L-12,36.5 L-7,35 L-7.5,30 L-8.5,22 L-8,14 L-9.5,11.5 L-11,10 L-10,8.5 L-6,8.5 L-4.5,5.5 L-5.5,3 L-3.6,2.5 Z" fill="#e2e2e2" transform="translate(221.30,234.00) rotate(-2) scale(1.124,1.092)"/>
<path d="M-4,8 L4,8 L7,20 L5,32 L-5,32 L-7,20 Z" fill="#ededed" transform="translate(221.30,234.00) rotate(-2) scale(1.124,1.092)"/>
</g>
<g filter="url(#b05)">
<ellipse cx="135.80" cy="256.60" rx="6.20" ry="5.20" fill="#2a1cff" />
<ellipse cx="135.80" cy="256.60" rx="4.96" ry="4.16" fill="#10c0ff" />
<ellipse cx="135.80" cy="256.60" rx="3.84" ry="3.22" fill="#30f060" />
<ellipse cx="135.80" cy="256.60" rx="1.86" ry="1.56" fill="#f0f020" />
</g>
<g filter="url(#b05)">
<ellipse cx="143.60" cy="255.00" rx="2.80" ry="4.00" fill="#2a1cff" />
<ellipse cx="143.60" cy="255.00" rx="1.40" ry="2.00" fill="#6030e0" />
</g>
<g filter="url(#b05)">
<ellipse cx="136.20" cy="274.60" rx="2.60" ry="2.60" fill="#2a1cff" />
</g>
<g filter="url(#b05)">
<ellipse cx="158.30" cy="256.60" rx="4.60" ry="2.80" fill="#2a1cff" />
<ellipse cx="158.30" cy="256.60" rx="2.76" ry="1.68" fill="#10c0ff" />
<ellipse cx="158.30" cy="256.60" rx="1.38" ry="0.84" fill="#3080ff" />
</g>
<g filter="url(#b05)">
<ellipse cx="177.40" cy="256.00" rx="5.20" ry="4.60" fill="#2a1cff" />
<ellipse cx="177.40" cy="256.00" rx="4.06" ry="3.59" fill="#10c0ff" />
<ellipse cx="177.40" cy="256.00" rx="3.12" ry="2.76" fill="#30f060" />
<ellipse cx="177.40" cy="256.00" rx="1.30" ry="1.15" fill="#f0f020" />
</g>
<g filter="url(#b05)">
<ellipse cx="185.30" cy="249.90" rx="1.60" ry="1.60" fill="#2a1cff" />
</g>
<g filter="url(#b05)">
<ellipse cx="203.30" cy="259.60" rx="5.20" ry="4.60" fill="#2a1cff" />
<ellipse cx="203.30" cy="259.60" rx="4.06" ry="3.59" fill="#10c0ff" />
<ellipse cx="203.30" cy="259.60" rx="3.12" ry="2.76" fill="#30f060" />
<ellipse cx="203.30" cy="259.60" rx="1.56" ry="1.38" fill="#f0f020" />
</g>
<g filter="url(#b05)">
<ellipse cx="222.40" cy="261.10" rx="4.80" ry="3.80" fill="#2a1cff" />
<ellipse cx="222.40" cy="261.10" rx="3.60" ry="2.85" fill="#10c0ff" />
<ellipse cx="222.40" cy="261.10" rx="2.40" ry="1.90" fill="#30f060" />
</g>
</g>
<g clip-path="url(#cE1)">
<rect x="7.70" y="328.80" width="80.30" height="93.20" fill="#3b3b3b" />
<g filter="url(#b2)">
<rect x="7.70" y="328.80" width="80.30" height="18.00" fill="#454545" />
</g>
<g filter="url(#b05)">
<path d="M16,357 L70,357 L70,380 L74,404 L12,404 L16,380 Z" fill="#868686" />
<path d="M7.7,399 L26,403 L31,407.3 L7.7,417 Z" fill="#1c1c1c" />
<path d="M88,397 L68,400 L60,406 L88,416 Z" fill="#1c1c1c" />
<path d="M7.7,416.5 L30,406 L58,406 L88,415.5 L88,420.5 L60,412 L53,413 L53,422 L42,422 L42,413 L31,412 L7.7,421.5 Z" fill="#c2c2c2" />
<ellipse cx="81.00" cy="405.50" rx="3.00" ry="2.00" fill="#8a8a8a" />
<path d="M44.5,333 L49,335 L54,341 L57,347 L59.5,351 L50,354 L36,354 L30,351 L33,347 L39,339 Z" fill="#d2d2d2" />
<path d="M9,352.5 L30,351 L45,350.5 L62,351 L80,350.5 L88,352 L88,355 L80,354.5 L62,356.5 L45,357.5 L30,356.5 L9,357.5 Z" fill="#cacaca" />
<ellipse cx="12.00" cy="355.50" rx="3.30" ry="3.00" fill="#b4b4b4" />
<ellipse cx="78.50" cy="353.50" rx="3.00" ry="2.60" fill="#b8b8b8" />
</g>
<g filter="url(#b1)">
<ellipse cx="68.00" cy="380.00" rx="5.50" ry="14.00" fill="#2c2c2c" />
<ellipse cx="42.00" cy="370.50" rx="20.50" ry="13.00" fill="#161616" />
<ellipse cx="35.00" cy="391.00" rx="14.00" ry="14.00" fill="#8e8e8e" />
<ellipse cx="40.00" cy="396.00" rx="7.00" ry="6.00" fill="#6a6a6a" />
<ellipse cx="22.00" cy="388.00" rx="5.00" ry="9.00" fill="#9a9a9a" />
</g>
<g filter="url(#b05)">
<path d="M60,365 L74,360.5" fill="none" stroke="#9c9c9c" stroke-width="3" stroke-linecap="round" stroke-linejoin="round" />
<ellipse cx="74.50" cy="360.50" rx="2.60" ry="2.40" fill="#a8a8a8" />
</g>
<path d="M41.0 376.1h0.7v0.7h-0.7zM30.4 374.2h0.7v0.7h-0.7zM36.8 366.0h0.7v0.7h-0.7zM56.4 368.8h0.7v0.7h-0.7zM39.5 373.3h0.7v0.7h-0.7zM52.3 367.8h0.7v0.7h-0.7zM46.4 361.5h0.7v0.7h-0.7zM35.5 364.7h0.7v0.7h-0.7zM28.9 360.3h0.7v0.7h-0.7zM24.7 366.6h0.7v0.7h-0.7zM37.8 365.5h0.7v0.7h-0.7zM40.7 359.6h0.7v0.7h-0.7zM39.0 369.8h0.7v0.7h-0.7zM48.2 362.3h0.7v0.7h-0.7zM36.7 357.9h0.7v0.7h-0.7zM36.1 357.7h0.7v0.7h-0.7zM27.3 374.0h0.7v0.7h-0.7zM23.6 371.6h0.7v0.7h-0.7zM44.1 365.6h0.7v0.7h-0.7zM45.5 371.9h0.7v0.7h-0.7zM51.6 366.4h0.7v0.7h-0.7zM33.1 363.7h0.7v0.7h-0.7zM28.8 367.7h0.7v0.7h-0.7zM31.8 374.8h0.7v0.7h-0.7zM25.2 362.7h0.7v0.7h-0.7zM32.8 358.4h0.7v0.7h-0.7zM51.1 359.4h0.7v0.7h-0.7zM36.5 364.1h0.7v0.7h-0.7zM51.3 359.7h0.7v0.7h-0.7zM51.2 363.3h0.7v0.7h-0.7zM38.1 363.1h0.7v0.7h-0.7zM46.7 360.7h0.7v0.7h-0.7zM39.0 370.7h0.7v0.7h-0.7zM50.9 359.3h0.7v0.7h-0.7zM53.7 373.2h0.7v0.7h-0.7zM34.1 370.3h0.7v0.7h-0.7zM35.7 377.3h0.7v0.7h-0.7zM42.6 366.3h0.7v0.7h-0.7zM37.1 366.5h0.7v0.7h-0.7zM38.0 361.8h0.7v0.7h-0.7z" fill="#d8d8d8"/>
<path d="M35.4 396.2h0.8v0.8h-0.8zM30.6 395.1h0.8v0.8h-0.8zM43.1 395.3h0.8v0.8h-0.8zM45.9 386.3h0.8v0.8h-0.8zM35.6 385.9h0.8v0.8h-0.8zM27.8 390.4h0.8v0.8h-0.8zM37.1 395.7h0.8v0.8h-0.8zM38.0 404.2h0.8v0.8h-0.8zM41.0 381.7h0.8v0.8h-0.8zM36.9 386.6h0.8v0.8h-0.8zM30.9 401.6h0.8v0.8h-0.8zM33.5 380.1h0.8v0.8h-0.8zM38.0 389.4h0.8v0.8h-0.8zM26.0 385.4h0.8v0.8h-0.8zM29.1 391.8h0.8v0.8h-0.8zM30.9 392.6h0.8v0.8h-0.8zM46.9 387.2h0.8v0.8h-0.8zM27.7 389.9h0.8v0.8h-0.8zM43.9 386.7h0.8v0.8h-0.8zM44.5 383.9h0.8v0.8h-0.8zM26.0 391.6h0.8v0.8h-0.8zM27.5 387.0h0.8v0.8h-0.8zM39.1 398.1h0.8v0.8h-0.8zM36.1 389.5h0.8v0.8h-0.8zM45.6 395.0h0.8v0.8h-0.8zM33.1 401.3h0.8v0.8h-0.8zM26.9 393.4h0.8v0.8h-0.8zM41.2 391.9h0.8v0.8h-0.8zM29.6 395.0h0.8v0.8h-0.8zM30.1 386.9h0.8v0.8h-0.8zM27.5 400.8h0.8v0.8h-0.8zM30.5 400.8h0.8v0.8h-0.8zM38.7 389.7h0.8v0.8h-0.8zM41.2 394.3h0.8v0.8h-0.8zM36.0 381.8h0.8v0.8h-0.8zM35.6 399.5h0.8v0.8h-0.8zM39.2 399.9h0.8v0.8h-0.8zM46.3 394.9h0.8v0.8h-0.8zM45.9 384.3h0.8v0.8h-0.8zM33.7 379.3h0.8v0.8h-0.8zM42.5 392.8h0.8v0.8h-0.8zM47.0 389.6h0.8v0.8h-0.8zM23.5 398.7h0.8v0.8h-0.8zM25.8 383.9h0.8v0.8h-0.8zM33.4 397.5h0.8v0.8h-0.8zM30.1 393.7h0.8v0.8h-0.8zM24.9 400.6h0.8v0.8h-0.8zM34.3 393.1h0.8v0.8h-0.8zM40.5 393.5h0.8v0.8h-0.8zM36.8 384.3h0.8v0.8h-0.8zM33.9 395.9h0.8v0.8h-0.8zM44.1 391.0h0.8v0.8h-0.8zM35.9 395.1h0.8v0.8h-0.8zM40.4 393.8h0.8v0.8h-0.8zM32.6 387.5h0.8v0.8h-0.8zM44.5 394.3h0.8v0.8h-0.8zM35.1 405.0h0.8v0.8h-0.8zM42.3 398.6h0.8v0.8h-0.8zM36.3 383.8h0.8v0.8h-0.8zM44.6 391.3h0.8v0.8h-0.8z" fill="#b8b8b8"/>
<path d="M26.4 384.2h0.8v0.8h-0.8zM38.8 379.9h0.8v0.8h-0.8zM34.1 379.5h0.8v0.8h-0.8zM44.4 393.6h0.8v0.8h-0.8zM45.6 388.3h0.8v0.8h-0.8zM38.8 389.4h0.8v0.8h-0.8zM28.2 393.2h0.8v0.8h-0.8zM24.8 389.3h0.8v0.8h-0.8zM41.5 392.5h0.8v0.8h-0.8zM32.5 404.2h0.8v0.8h-0.8zM35.6 386.8h0.8v0.8h-0.8zM36.5 387.4h0.8v0.8h-0.8zM31.3 388.9h0.8v0.8h-0.8zM48.1 392.1h0.8v0.8h-0.8zM36.6 397.8h0.8v0.8h-0.8zM48.0 390.7h0.8v0.8h-0.8zM31.6 404.4h0.8v0.8h-0.8zM23.8 389.4h0.8v0.8h-0.8zM38.8 404.1h0.8v0.8h-0.8zM30.0 380.1h0.8v0.8h-0.8zM41.0 387.6h0.8v0.8h-0.8zM31.3 396.1h0.8v0.8h-0.8zM37.2 394.6h0.8v0.8h-0.8zM31.6 401.6h0.8v0.8h-0.8zM46.5 392.2h0.8v0.8h-0.8zM30.9 398.2h0.8v0.8h-0.8zM39.0 383.8h0.8v0.8h-0.8zM31.1 400.3h0.8v0.8h-0.8zM34.1 389.0h0.8v0.8h-0.8zM37.1 391.7h0.8v0.8h-0.8zM35.0 380.1h0.8v0.8h-0.8zM47.3 393.3h0.8v0.8h-0.8zM27.9 399.4h0.8v0.8h-0.8zM38.0 392.2h0.8v0.8h-0.8zM40.8 403.5h0.8v0.8h-0.8zM39.0 402.7h0.8v0.8h-0.8zM47.3 386.6h0.8v0.8h-0.8zM30.3 398.4h0.8v0.8h-0.8zM22.8 390.2h0.8v0.8h-0.8zM44.4 399.1h0.8v0.8h-0.8zM38.8 380.5h0.8v0.8h-0.8zM48.3 394.9h0.8v0.8h-0.8zM41.9 396.1h0.8v0.8h-0.8zM24.7 384.0h0.8v0.8h-0.8zM27.8 402.6h0.8v0.8h-0.8zM27.5 390.0h0.8v0.8h-0.8zM32.6 397.0h0.8v0.8h-0.8zM39.8 394.4h0.8v0.8h-0.8zM29.8 380.0h0.8v0.8h-0.8zM36.6 394.4h0.8v0.8h-0.8z" fill="#505050"/>
<g filter="url(#b05)">
<ellipse cx="60.00" cy="389.00" rx="10.80" ry="9.20" fill="#2a1cff" />
<ellipse cx="60.00" cy="389.00" rx="8.64" ry="7.36" fill="#00b8ff" />
<ellipse cx="60.00" cy="389.00" rx="6.48" ry="5.52" fill="#28f050" />
<ellipse cx="60.00" cy="389.00" rx="4.32" ry="3.68" fill="#f0f000" />
<ellipse cx="60.00" cy="389.00" rx="2.16" ry="1.84" fill="#ff2a00" />
</g>
<g filter="url(#b05)">
<ellipse cx="67.50" cy="394.00" rx="4.50" ry="3.00" fill="#00b8ff" />
<ellipse cx="67.50" cy="394.00" rx="3.00" ry="2.00" fill="#28f050" />
<ellipse cx="67.50" cy="394.00" rx="1.50" ry="1.00" fill="#a0ffa0" />
</g>
</g>
<g clip-path="url(#cE2)">
<rect x="92.00" y="328.80" width="79.90" height="93.20" fill="#505050" />
<g filter="url(#b2)">
<rect x="92.00" y="328.80" width="79.90" height="20.00" fill="#5a5a5a" />
<ellipse cx="98.00" cy="414.00" rx="7.00" ry="7.00" fill="#2a2a2a" />
<ellipse cx="165.00" cy="414.00" rx="7.00" ry="7.00" fill="#2a2a2a" />
</g>
<g filter="url(#b05)">
<path d="M101,361 L155,361 L155,385 L157,406 L99,406 L101,385 Z" fill="#969696" />
<path d="M130,333.5 L134,336 L137,342 L142,350 L143,353 L135,356.5 L125,356.5 L117,353 L121,346 L125,339 Z" fill="#e0e0e0" />
<ellipse cx="142.50" cy="351.50" rx="3.00" ry="3.00" fill="#d4d4d4" />
<path d="M93.5,355 L110,355.5 L122,354.5 L138,354.5 L152,355.5 L168,355 L171.9,356 L171.9,358.5 L168,358.5 L152,359.5 L138,361.5 L122,361.5 L110,359.5 L93.5,359.5 Z" fill="#dedede" />
<ellipse cx="97.70" cy="357.00" rx="3.20" ry="3.20" fill="#b4b4b4" />
<ellipse cx="166.50" cy="357.00" rx="2.80" ry="2.60" fill="#c0c0c0" />
<path d="M92,400 L104,405 L108,409 L92,417 Z" fill="#2a2a2a" />
<path d="M172,398 L156,403 L150,408 L172,416 Z" fill="#2a2a2a" />
<path d="M98,404 L156,404 L152,413 L102,413 Z" fill="#c4c4c4" />
<path d="M92,416.5 L112,407 L150,407 L172,415.5 L172,420.5 L148,413 L137,413.5 L137,422 L124,422 L124,413.5 L114,413 L92,421.5 Z" fill="#cfcfcf" />
<path d="M156,397 L170,397.5 L170,401.5 L156,402 Z" fill="#9a9a9a" />
</g>
<g filter="url(#b1)">
<ellipse cx="126.00" cy="368.50" rx="20.00" ry="6.50" fill="#333" />
<ellipse cx="107.00" cy="366.50" rx="3.00" ry="3.00" fill="#a0a0a0" />
<ellipse cx="148.00" cy="369.00" rx="3.00" ry="3.00" fill="#a0a0a0" />
</g>
<g filter="url(#b05)">
<path d="M99,396 L104,383 L118,376 L138,374.5 L148,379 L154,386 L156.5,396 L151,404.5 L122,410.5 L101.5,405.5 Z" fill="#3414f4" />
<path d="M99,396 L104,383 L118,376 L138,374.5 L148,379 L154,386 L156.5,396 L151,404.5 L122,410.5 L101.5,405.5 Z" fill="none" stroke="#7a40ff" stroke-width="1.5"/>
<ellipse cx="130.30" cy="378.70" rx="3.00" ry="2.00" fill="#b0a0ff" />
<ellipse cx="140.00" cy="399.00" rx="4.00" ry="3.00" fill="#5a40c0" />
</g>
<g filter="url(#b05)">
<ellipse cx="123.30" cy="380.60" rx="4.40" ry="4.00" fill="#10c8f0" />
<ellipse cx="123.30" cy="380.60" rx="3.08" ry="2.80" fill="#30e860" />
<ellipse cx="123.30" cy="380.60" rx="1.54" ry="1.40" fill="#e8f020" />
</g>
<g filter="url(#b05)">
<ellipse cx="136.60" cy="386.30" rx="4.00" ry="7.00" fill="#10c8f0" />
<ellipse cx="136.60" cy="386.30" rx="2.80" ry="4.90" fill="#30e860" />
<ellipse cx="136.60" cy="386.30" rx="1.40" ry="2.45" fill="#e8f020" />
</g>
<g filter="url(#b05)">
<ellipse cx="132.80" cy="384.50" rx="2.60" ry="2.60" fill="#10c8f0" />
</g>
<g filter="url(#b05)">
<ellipse cx="125.20" cy="392.00" rx="3.20" ry="3.00" fill="#10c8f0" />
<ellipse cx="125.20" cy="392.00" rx="1.60" ry="1.50" fill="#40e0c0" />
</g>
<g filter="url(#b05)">
<ellipse cx="105.50" cy="397.70" rx="5.20" ry="7.00" fill="#10c8f0" />
<ellipse cx="105.50" cy="397.70" rx="3.90" ry="5.25" fill="#30e860" />
<ellipse cx="105.50" cy="397.70" rx="2.34" ry="3.15" fill="#e8f020" />
<ellipse cx="105.50" cy="397.70" rx="1.04" ry="1.40" fill="#ff3010" />
</g>
<g filter="url(#b05)">
<ellipse cx="108.70" cy="386.30" rx="3.60" ry="3.60" fill="#10c8f0" />
<ellipse cx="108.70" cy="386.30" rx="1.98" ry="1.98" fill="#30e860" />
</g>
<g filter="url(#b05)">
<ellipse cx="115.70" cy="395.20" rx="3.60" ry="5.00" fill="#10c8f0" />
<ellipse cx="115.70" cy="395.20" rx="2.16" ry="3.00" fill="#30e860" />
<ellipse cx="115.70" cy="395.20" rx="1.08" ry="1.50" fill="#b0f020" />
</g>
<g filter="url(#b05)">
<ellipse cx="115.00" cy="404.70" rx="3.20" ry="3.20" fill="#10c8f0" />
<ellipse cx="115.00" cy="404.70" rx="1.92" ry="1.92" fill="#e8f020" />
<ellipse cx="115.00" cy="404.70" rx="1.12" ry="1.12" fill="#ff3010" />
</g>
<g filter="url(#b05)">
<ellipse cx="122.60" cy="406.60" rx="3.60" ry="3.60" fill="#10c8f0" />
<ellipse cx="122.60" cy="406.60" rx="2.16" ry="2.16" fill="#30e860" />
</g>
<g filter="url(#b05)">
<ellipse cx="148.70" cy="395.80" rx="2.80" ry="3.20" fill="#10c8f0" />
<ellipse cx="148.70" cy="395.80" rx="1.40" ry="1.60" fill="#40d0ff" />
</g>
</g>
<defs><radialGradient id="fg"><stop offset="0" stop-color="#555" stop-opacity="0.9"/><stop offset="0.5" stop-color="#666" stop-opacity="0.55"/><stop offset="1" stop-color="#888" stop-opacity="0"/></radialGradient></defs>
<rect x="293.40" y="99.50" width="58.10" height="47.80" fill="#fff" stroke="#888" stroke-width="0.7"/>
<clipPath id="cf1"><rect x="293.4" y="99.5" width="58.10000000000002" height="47.80000000000001"/></clipPath>
<g clip-path="url(#cf1)">
<ellipse cx="302" cy="126" rx="11" ry="23" fill="url(#fg)" opacity="0.55" transform="rotate(0 302 126)"/>
<ellipse cx="300" cy="139" rx="10" ry="9" fill="url(#fg)" opacity="0.7" transform="rotate(0 300 139)"/>
<ellipse cx="326" cy="140" rx="10" ry="7" fill="url(#fg)" opacity="0.95" transform="rotate(0 326 140)"/>
<ellipse cx="312" cy="138" rx="7" ry="7" fill="url(#fg)" opacity="0.4" transform="rotate(0 312 138)"/>
<ellipse cx="318" cy="132" rx="14" ry="10" fill="url(#fg)" opacity="0.2" transform="rotate(0 318 132)"/>
<path d="M300.6 131.9h.6v.6h-.6zM300.8 122.4h.6v.6h-.6zM296.9 123.5h.6v.6h-.6zM308.1 130.9h.6v.6h-.6zM307.7 128.9h.6v.6h-.6zM304.2 128.1h.6v.6h-.6zM292.8 135.8h.6v.6h-.6zM304.8 131.7h.6v.6h-.6zM292.7 105.9h.6v.6h-.6zM297.1 120.6h.6v.6h-.6zM303.7 125.5h.6v.6h-.6zM304.9 118.6h.6v.6h-.6zM303.7 130.5h.6v.6h-.6zM298.4 145.8h.6v.6h-.6zM305.1 139.8h.6v.6h-.6zM298.6 117.5h.6v.6h-.6zM300.1 124.8h.6v.6h-.6zM305.5 128.9h.6v.6h-.6zM299.5 115.0h.6v.6h-.6zM299.1 140.0h.6v.6h-.6zM297.6 128.8h.6v.6h-.6zM304.3 108.9h.6v.6h-.6zM302.3 141.0h.6v.6h-.6zM290.9 122.3h.6v.6h-.6zM301.4 116.6h.6v.6h-.6zM304.7 125.3h.6v.6h-.6zM293.9 135.5h.6v.6h-.6zM305.7 136.9h.6v.6h-.6zM309.9 130.2h.6v.6h-.6zM302.7 111.1h.6v.6h-.6zM305.4 119.0h.6v.6h-.6zM299.5 111.5h.6v.6h-.6zM296.7 119.9h.6v.6h-.6zM309.1 102.6h.6v.6h-.6zM294.0 128.8h.6v.6h-.6zM309.9 132.7h.6v.6h-.6zM291.6 97.0h.6v.6h-.6zM304.0 117.5h.6v.6h-.6zM295.8 137.2h.6v.6h-.6zM308.1 127.8h.6v.6h-.6zM303.4 131.0h.6v.6h-.6zM310.8 133.1h.6v.6h-.6zM304.9 132.3h.6v.6h-.6zM293.4 140.7h.6v.6h-.6zM307.3 132.1h.6v.6h-.6zM291.1 118.7h.6v.6h-.6zM306.6 105.2h.6v.6h-.6zM301.0 137.7h.6v.6h-.6zM294.8 144.5h.6v.6h-.6zM305.0 124.3h.6v.6h-.6zM303.8 133.5h.6v.6h-.6zM302.7 139.2h.6v.6h-.6zM298.4 121.2h.6v.6h-.6zM307.7 126.3h.6v.6h-.6zM297.2 136.9h.6v.6h-.6zM310.1 120.9h.6v.6h-.6zM294.4 124.5h.6v.6h-.6zM301.2 122.6h.6v.6h-.6zM309.7 114.2h.6v.6h-.6zM308.9 111.4h.6v.6h-.6zM297.7 133.3h.6v.6h-.6zM308.2 135.9h.6v.6h-.6zM303.9 127.6h.6v.6h-.6zM302.8 132.6h.6v.6h-.6zM301.0 129.2h.6v.6h-.6zM305.1 126.0h.6v.6h-.6zM306.2 132.5h.6v.6h-.6zM313.1 129.7h.6v.6h-.6zM299.6 121.7h.6v.6h-.6zM301.9 136.6h.6v.6h-.6zM300.1 130.4h.6v.6h-.6zM312.1 96.5h.6v.6h-.6zM295.8 128.8h.6v.6h-.6zM304.2 128.7h.6v.6h-.6zM299.6 133.5h.6v.6h-.6zM303.6 120.0h.6v.6h-.6zM315.4 130.1h.6v.6h-.6zM299.0 124.9h.6v.6h-.6zM300.8 125.3h.6v.6h-.6zM287.0 120.4h.6v.6h-.6zM307.5 112.6h.6v.6h-.6zM301.6 137.0h.6v.6h-.6zM306.7 143.1h.6v.6h-.6zM292.6 121.9h.6v.6h-.6zM300.1 133.2h.6v.6h-.6zM308.0 95.1h.6v.6h-.6zM308.0 109.4h.6v.6h-.6zM305.8 108.8h.6v.6h-.6zM303.0 139.7h.6v.6h-.6zM301.2 128.2h.6v.6h-.6zM306.4 127.6h.6v.6h-.6zM301.5 143.6h.6v.6h-.6zM307.8 122.6h.6v.6h-.6zM317.1 112.8h.6v.6h-.6zM307.0 122.9h.6v.6h-.6zM302.7 134.1h.6v.6h-.6zM303.2 133.3h.6v.6h-.6zM293.6 108.6h.6v.6h-.6zM305.4 114.9h.6v.6h-.6zM296.4 109.1h.6v.6h-.6zM309.0 134.6h.6v.6h-.6zM310.1 115.2h.6v.6h-.6zM302.0 112.9h.6v.6h-.6zM306.2 144.3h.6v.6h-.6zM297.1 143.9h.6v.6h-.6zM307.4 124.0h.6v.6h-.6zM291.2 142.2h.6v.6h-.6zM301.5 119.1h.6v.6h-.6zM304.2 130.7h.6v.6h-.6zM310.2 114.3h.6v.6h-.6zM308.2 143.1h.6v.6h-.6zM310.0 123.9h.6v.6h-.6zM297.9 137.7h.6v.6h-.6zM302.6 127.4h.6v.6h-.6zM309.8 123.0h.6v.6h-.6zM289.4 121.5h.6v.6h-.6zM291.8 135.4h.6v.6h-.6zM303.7 119.0h.6v.6h-.6zM301.9 135.6h.6v.6h-.6zM302.4 141.3h.6v.6h-.6zM301.7 138.0h.6v.6h-.6zM310.2 144.5h.6v.6h-.6zM298.3 136.1h.6v.6h-.6zM291.7 113.5h.6v.6h-.6zM291.2 138.3h.6v.6h-.6zM295.2 125.9h.6v.6h-.6zM300.9 125.7h.6v.6h-.6zM298.7 128.7h.6v.6h-.6zM311.9 126.5h.6v.6h-.6zM304.9 137.5h.6v.6h-.6zM300.9 111.5h.6v.6h-.6zM298.9 138.3h.6v.6h-.6zM292.9 119.1h.6v.6h-.6zM307.5 135.1h.6v.6h-.6zM302.0 135.3h.6v.6h-.6zM302.9 112.4h.6v.6h-.6zM293.4 118.7h.6v.6h-.6zM307.1 119.5h.6v.6h-.6zM297.0 117.1h.6v.6h-.6zM293.6 124.7h.6v.6h-.6zM295.5 130.2h.6v.6h-.6zM289.0 129.8h.6v.6h-.6zM298.5 103.7h.6v.6h-.6zM306.0 122.8h.6v.6h-.6zM289.7 115.9h.6v.6h-.6zM303.6 120.7h.6v.6h-.6zM306.3 134.6h.6v.6h-.6zM305.7 129.8h.6v.6h-.6zM309.3 133.6h.6v.6h-.6zM304.5 102.0h.6v.6h-.6zM306.9 141.1h.6v.6h-.6zM300.4 120.6h.6v.6h-.6zM312.7 105.8h.6v.6h-.6zM304.6 153.9h.6v.6h-.6zM296.9 133.9h.6v.6h-.6zM312.4 124.6h.6v.6h-.6zM305.1 136.4h.6v.6h-.6zM297.0 125.0h.6v.6h-.6zM303.6 135.5h.6v.6h-.6zM301.8 123.8h.6v.6h-.6zM296.4 121.9h.6v.6h-.6zM306.9 127.2h.6v.6h-.6zM297.3 116.3h.6v.6h-.6zM316.7 139.1h.6v.6h-.6zM305.5 96.2h.6v.6h-.6zM305.4 131.5h.6v.6h-.6zM311.3 130.9h.6v.6h-.6zM301.6 132.0h.6v.6h-.6zM291.3 137.9h.6v.6h-.6zM303.8 117.9h.6v.6h-.6zM309.3 146.8h.6v.6h-.6zM294.3 118.3h.6v.6h-.6zM303.6 128.1h.6v.6h-.6zM299.8 114.8h.6v.6h-.6zM313.7 137.9h.6v.6h-.6zM295.4 110.5h.6v.6h-.6zM311.4 137.4h.6v.6h-.6zM312.0 135.3h.6v.6h-.6zM297.2 129.0h.6v.6h-.6zM290.1 117.4h.6v.6h-.6zM301.7 132.0h.6v.6h-.6zM298.0 124.6h.6v.6h-.6zM304.5 130.3h.6v.6h-.6zM305.5 128.4h.6v.6h-.6zM300.2 135.1h.6v.6h-.6zM302.3 116.5h.6v.6h-.6zM298.6 126.0h.6v.6h-.6zM301.4 127.8h.6v.6h-.6zM302.0 128.0h.6v.6h-.6zM301.3 111.5h.6v.6h-.6zM304.3 138.1h.6v.6h-.6zM304.4 123.8h.6v.6h-.6zM304.5 114.9h.6v.6h-.6zM291.6 126.7h.6v.6h-.6zM296.9 134.5h.6v.6h-.6zM296.0 95.8h.6v.6h-.6zM296.3 144.1h.6v.6h-.6zM299.9 110.3h.6v.6h-.6zM297.8 132.0h.6v.6h-.6zM304.7 128.0h.6v.6h-.6zM310.2 134.1h.6v.6h-.6zM301.9 132.9h.6v.6h-.6zM311.1 137.2h.6v.6h-.6zM307.6 113.5h.6v.6h-.6zM301.2 134.4h.6v.6h-.6zM300.4 138.3h.6v.6h-.6zM305.3 136.4h.6v.6h-.6zM300.8 155.3h.6v.6h-.6zM308.8 123.5h.6v.6h-.6zM302.5 155.8h.6v.6h-.6zM300.1 136.1h.6v.6h-.6zM307.4 126.1h.6v.6h-.6zM295.6 128.2h.6v.6h-.6zM304.0 139.0h.6v.6h-.6zM306.3 126.3h.6v.6h-.6zM306.7 132.2h.6v.6h-.6zM303.1 126.6h.6v.6h-.6zM300.7 133.9h.6v.6h-.6zM296.2 118.8h.6v.6h-.6zM302.0 109.2h.6v.6h-.6zM299.6 102.9h.6v.6h-.6zM298.2 132.5h.6v.6h-.6zM305.1 125.4h.6v.6h-.6zM300.7 109.7h.6v.6h-.6zM312.1 131.9h.6v.6h-.6zM308.0 115.9h.6v.6h-.6zM301.0 105.1h.6v.6h-.6zM306.3 136.8h.6v.6h-.6zM291.6 125.4h.6v.6h-.6zM305.5 105.7h.6v.6h-.6zM292.0 113.8h.6v.6h-.6zM298.5 109.9h.6v.6h-.6zM302.2 128.9h.6v.6h-.6zM305.5 134.1h.6v.6h-.6zM310.3 139.4h.6v.6h-.6zM294.8 120.2h.6v.6h-.6zM296.2 113.6h.6v.6h-.6zM301.6 126.1h.6v.6h-.6zM304.7 107.8h.6v.6h-.6zM295.2 125.7h.6v.6h-.6zM300.9 122.4h.6v.6h-.6zM301.7 117.3h.6v.6h-.6zM305.9 130.1h.6v.6h-.6zM301.5 118.3h.6v.6h-.6zM301.0 94.7h.6v.6h-.6zM296.6 126.4h.6v.6h-.6zM293.7 128.3h.6v.6h-.6zM302.8 110.2h.6v.6h-.6zM300.6 122.4h.6v.6h-.6zM304.5 133.0h.6v.6h-.6zM301.8 116.2h.6v.6h-.6zM301.2 125.2h.6v.6h-.6zM306.0 129.4h.6v.6h-.6zM298.0 110.4h.6v.6h-.6zM299.9 117.5h.6v.6h-.6zM295.9 124.7h.6v.6h-.6zM299.3 127.2h.6v.6h-.6zM304.9 121.3h.6v.6h-.6zM314.8 122.3h.6v.6h-.6zM308.1 127.4h.6v.6h-.6zM308.1 98.7h.6v.6h-.6zM297.9 128.8h.6v.6h-.6zM305.3 152.9h.6v.6h-.6zM303.8 140.7h.6v.6h-.6zM306.2 136.9h.6v.6h-.6zM304.8 124.2h.6v.6h-.6zM304.8 113.6h.6v.6h-.6zM308.5 114.3h.6v.6h-.6zM303.4 150.4h.6v.6h-.6zM300.8 126.2h.6v.6h-.6zM308.4 126.3h.6v.6h-.6zM297.6 129.0h.6v.6h-.6zM305.2 134.2h.6v.6h-.6zM297.8 146.2h.6v.6h-.6zM311.2 126.2h.6v.6h-.6zM303.5 121.1h.6v.6h-.6zM309.8 117.9h.6v.6h-.6zM305.7 120.5h.6v.6h-.6zM298.2 134.3h.6v.6h-.6zM309.3 125.9h.6v.6h-.6zM298.3 135.3h.6v.6h-.6zM301.7 129.6h.6v.6h-.6zM310.4 139.0h.6v.6h-.6zM299.1 152.3h.6v.6h-.6zM302.0 135.0h.6v.6h-.6zM298.4 125.5h.6v.6h-.6zM292.4 146.5h.6v.6h-.6zM309.5 112.0h.6v.6h-.6zM293.7 107.4h.6v.6h-.6zM308.5 120.7h.6v.6h-.6zM301.7 122.4h.6v.6h-.6zM301.3 113.5h.6v.6h-.6zM302.1 109.5h.6v.6h-.6zM301.6 129.6h.6v.6h-.6zM304.6 123.3h.6v.6h-.6zM297.0 127.8h.6v.6h-.6zM299.3 144.0h.6v.6h-.6zM306.2 124.7h.6v.6h-.6zM299.4 117.9h.6v.6h-.6zM296.8 121.9h.6v.6h-.6zM303.6 131.9h.6v.6h-.6zM305.1 150.1h.6v.6h-.6zM298.1 126.1h.6v.6h-.6zM317.4 104.5h.6v.6h-.6zM299.1 128.0h.6v.6h-.6zM302.8 130.7h.6v.6h-.6zM300.7 130.2h.6v.6h-.6zM302.3 134.9h.6v.6h-.6zM291.6 115.8h.6v.6h-.6zM302.0 114.1h.6v.6h-.6zM296.3 133.2h.6v.6h-.6zM298.4 133.3h.6v.6h-.6zM306.1 129.5h.6v.6h-.6zM304.8 124.8h.6v.6h-.6zM294.2 125.7h.6v.6h-.6zM304.5 119.9h.6v.6h-.6zM301.5 134.6h.6v.6h-.6zM297.2 133.4h.6v.6h-.6zM312.2 119.6h.6v.6h-.6zM302.8 124.3h.6v.6h-.6zM310.5 129.6h.6v.6h-.6zM306.9 118.1h.6v.6h-.6zM301.9 125.9h.6v.6h-.6zM292.2 142.6h.6v.6h-.6zM306.9 105.9h.6v.6h-.6zM306.1 124.5h.6v.6h-.6zM304.5 130.2h.6v.6h-.6zM293.8 123.6h.6v.6h-.6zM310.2 119.4h.6v.6h-.6zM296.4 110.4h.6v.6h-.6zM295.3 129.9h.6v.6h-.6zM311.3 130.9h.6v.6h-.6zM303.4 151.7h.6v.6h-.6zM299.1 118.2h.6v.6h-.6zM304.9 132.3h.6v.6h-.6zM296.4 112.5h.6v.6h-.6zM303.6 128.8h.6v.6h-.6zM294.8 123.7h.6v.6h-.6zM299.0 131.3h.6v.6h-.6zM301.4 125.0h.6v.6h-.6zM300.1 138.1h.6v.6h-.6zM309.6 121.8h.6v.6h-.6zM306.7 117.3h.6v.6h-.6zM302.4 134.6h.6v.6h-.6zM310.3 121.6h.6v.6h-.6zM301.6 128.3h.6v.6h-.6zM293.8 126.2h.6v.6h-.6zM298.3 130.3h.6v.6h-.6zM295.8 103.3h.6v.6h-.6zM302.2 129.0h.6v.6h-.6zM299.0 136.2h.6v.6h-.6zM300.5 119.0h.6v.6h-.6zM304.6 108.0h.6v.6h-.6zM298.3 125.8h.6v.6h-.6zM306.7 124.1h.6v.6h-.6zM303.7 118.5h.6v.6h-.6zM303.7 145.1h.6v.6h-.6zM298.2 153.2h.6v.6h-.6zM298.5 126.2h.6v.6h-.6zM303.0 137.8h.6v.6h-.6zM295.2 101.8h.6v.6h-.6zM305.3 135.1h.6v.6h-.6zM305.4 156.3h.6v.6h-.6zM303.1 128.9h.6v.6h-.6zM307.1 130.2h.6v.6h-.6zM311.2 111.8h.6v.6h-.6zM299.9 86.4h.6v.6h-.6zM306.5 121.7h.6v.6h-.6zM307.1 150.8h.6v.6h-.6zM302.0 123.1h.6v.6h-.6zM299.3 116.4h.6v.6h-.6zM298.5 133.4h.6v.6h-.6zM302.2 126.8h.6v.6h-.6zM301.0 136.5h.6v.6h-.6zM304.7 124.4h.6v.6h-.6zM305.7 124.3h.6v.6h-.6zM295.7 142.7h.6v.6h-.6zM304.6 115.0h.6v.6h-.6zM307.9 130.0h.6v.6h-.6zM293.4 144.5h.6v.6h-.6zM303.8 136.3h.6v.6h-.6zM303.1 124.3h.6v.6h-.6zM293.5 137.2h.6v.6h-.6zM302.2 122.7h.6v.6h-.6zM303.9 126.9h.6v.6h-.6zM305.7 121.7h.6v.6h-.6zM301.8 101.4h.6v.6h-.6zM299.7 133.8h.6v.6h-.6zM309.4 121.8h.6v.6h-.6zM301.3 144.2h.6v.6h-.6zM300.2 134.4h.6v.6h-.6zM311.2 126.5h.6v.6h-.6zM308.7 117.8h.6v.6h-.6zM303.1 125.1h.6v.6h-.6zM302.6 139.0h.6v.6h-.6zM315.1 118.3h.6v.6h-.6zM298.8 131.7h.6v.6h-.6zM296.2 131.7h.6v.6h-.6zM305.1 122.8h.6v.6h-.6zM304.9 108.2h.6v.6h-.6zM306.2 108.2h.6v.6h-.6zM298.2 119.6h.6v.6h-.6zM299.8 135.9h.6v.6h-.6zM302.4 121.4h.6v.6h-.6zM305.0 144.2h.6v.6h-.6zM302.0 130.2h.6v.6h-.6zM308.8 129.1h.6v.6h-.6zM294.9 154.6h.6v.6h-.6zM314.1 103.2h.6v.6h-.6zM301.8 130.8h.6v.6h-.6zM307.3 133.7h.6v.6h-.6zM300.5 113.9h.6v.6h-.6zM302.6 137.9h.6v.6h-.6zM296.0 114.2h.6v.6h-.6zM301.9 103.7h.6v.6h-.6zM300.6 121.0h.6v.6h-.6zM304.5 117.9h.6v.6h-.6zM297.1 121.5h.6v.6h-.6zM301.7 118.4h.6v.6h-.6zM302.1 134.6h.6v.6h-.6zM308.5 145.6h.6v.6h-.6zM297.7 121.2h.6v.6h-.6zM288.3 147.8h.6v.6h-.6zM298.0 125.6h.6v.6h-.6zM304.9 110.4h.6v.6h-.6zM304.6 125.7h.6v.6h-.6zM292.0 129.4h.6v.6h-.6zM308.6 104.5h.6v.6h-.6zM306.4 128.4h.6v.6h-.6zM304.6 131.1h.6v.6h-.6zM309.2 123.4h.6v.6h-.6zM306.8 121.3h.6v.6h-.6zM306.0 116.6h.6v.6h-.6zM301.4 145.9h.6v.6h-.6zM304.5 124.2h.6v.6h-.6zM295.7 116.9h.6v.6h-.6zM303.1 136.8h.6v.6h-.6zM304.3 132.0h.6v.6h-.6zM301.8 141.5h.6v.6h-.6zM299.9 119.7h.6v.6h-.6zM306.9 126.7h.6v.6h-.6zM300.5 119.4h.6v.6h-.6zM300.6 133.2h.6v.6h-.6zM303.9 112.1h.6v.6h-.6zM304.3 128.1h.6v.6h-.6zM296.5 134.9h.6v.6h-.6zM300.5 122.1h.6v.6h-.6zM306.4 141.2h.6v.6h-.6zM298.2 131.0h.6v.6h-.6zM297.2 152.6h.6v.6h-.6zM299.3 139.7h.6v.6h-.6zM298.4 135.3h.6v.6h-.6zM314.2 96.8h.6v.6h-.6zM299.6 131.8h.6v.6h-.6zM301.5 118.3h.6v.6h-.6zM313.8 126.9h.6v.6h-.6zM293.0 135.8h.6v.6h-.6zM292.5 139.2h.6v.6h-.6zM298.8 127.7h.6v.6h-.6zM308.9 127.4h.6v.6h-.6zM294.3 106.5h.6v.6h-.6zM308.5 134.5h.6v.6h-.6zM297.5 135.9h.6v.6h-.6zM304.7 133.4h.6v.6h-.6zM289.6 122.5h.6v.6h-.6zM307.0 134.4h.6v.6h-.6zM306.8 97.7h.6v.6h-.6zM302.9 131.7h.6v.6h-.6zM316.0 115.0h.6v.6h-.6zM300.2 126.4h.6v.6h-.6zM306.9 120.9h.6v.6h-.6zM308.3 116.9h.6v.6h-.6zM303.5 119.9h.6v.6h-.6zM302.9 118.1h.6v.6h-.6zM293.2 138.6h.6v.6h-.6zM303.7 119.6h.6v.6h-.6zM303.1 137.4h.6v.6h-.6zM296.6 124.7h.6v.6h-.6zM305.0 132.1h.6v.6h-.6zM300.2 101.8h.6v.6h-.6zM306.2 140.5h.6v.6h-.6zM300.1 137.7h.6v.6h-.6zM301.3 137.1h.6v.6h-.6zM294.9 135.7h.6v.6h-.6zM297.0 136.2h.6v.6h-.6zM294.2 141.9h.6v.6h-.6zM293.5 142.0h.6v.6h-.6zM294.9 140.6h.6v.6h-.6zM306.9 139.9h.6v.6h-.6zM296.3 139.2h.6v.6h-.6zM300.7 131.2h.6v.6h-.6zM297.0 139.7h.6v.6h-.6zM297.7 139.4h.6v.6h-.6zM303.7 142.4h.6v.6h-.6zM304.5 141.6h.6v.6h-.6zM298.6 138.9h.6v.6h-.6zM298.6 137.6h.6v.6h-.6zM299.1 131.2h.6v.6h-.6zM298.3 138.9h.6v.6h-.6zM295.1 138.9h.6v.6h-.6zM302.6 138.3h.6v.6h-.6zM310.4 127.3h.6v.6h-.6zM299.0 130.8h.6v.6h-.6zM304.9 150.9h.6v.6h-.6zM287.5 139.6h.6v.6h-.6zM302.6 137.6h.6v.6h-.6zM302.8 128.9h.6v.6h-.6zM304.3 140.7h.6v.6h-.6zM300.1 136.4h.6v.6h-.6zM303.2 136.8h.6v.6h-.6zM301.1 136.7h.6v.6h-.6zM288.8 138.9h.6v.6h-.6zM301.0 142.4h.6v.6h-.6zM295.6 138.9h.6v.6h-.6zM303.1 139.7h.6v.6h-.6zM306.2 148.0h.6v.6h-.6zM295.5 130.4h.6v.6h-.6zM304.3 145.9h.6v.6h-.6zM304.6 142.7h.6v.6h-.6zM296.9 135.8h.6v.6h-.6zM304.4 134.9h.6v.6h-.6zM290.9 134.5h.6v.6h-.6zM312.5 147.7h.6v.6h-.6zM296.6 135.7h.6v.6h-.6zM301.2 135.6h.6v.6h-.6zM306.6 138.6h.6v.6h-.6zM294.6 144.9h.6v.6h-.6zM297.1 140.0h.6v.6h-.6zM299.9 137.6h.6v.6h-.6zM301.6 135.9h.6v.6h-.6zM290.8 129.1h.6v.6h-.6zM293.7 135.6h.6v.6h-.6zM299.9 139.2h.6v.6h-.6zM302.8 139.5h.6v.6h-.6zM296.0 135.8h.6v.6h-.6zM289.4 138.2h.6v.6h-.6zM302.4 141.4h.6v.6h-.6zM299.4 138.2h.6v.6h-.6zM304.7 139.1h.6v.6h-.6zM303.7 141.6h.6v.6h-.6zM301.1 144.9h.6v.6h-.6zM297.1 137.4h.6v.6h-.6zM296.0 135.4h.6v.6h-.6zM307.8 146.9h.6v.6h-.6zM300.1 141.6h.6v.6h-.6zM305.9 142.6h.6v.6h-.6zM306.0 133.3h.6v.6h-.6zM296.8 141.0h.6v.6h-.6zM307.2 139.5h.6v.6h-.6zM295.7 137.4h.6v.6h-.6zM296.7 135.1h.6v.6h-.6zM307.5 136.2h.6v.6h-.6zM300.1 148.7h.6v.6h-.6zM305.9 140.5h.6v.6h-.6zM296.9 140.8h.6v.6h-.6zM308.1 141.8h.6v.6h-.6zM306.3 139.4h.6v.6h-.6zM302.6 138.1h.6v.6h-.6zM302.1 144.9h.6v.6h-.6zM292.8 138.7h.6v.6h-.6zM301.2 136.4h.6v.6h-.6zM298.5 142.5h.6v.6h-.6zM310.0 141.8h.6v.6h-.6zM301.6 132.0h.6v.6h-.6zM309.6 139.3h.6v.6h-.6zM299.8 134.0h.6v.6h-.6zM299.7 134.1h.6v.6h-.6zM300.4 141.1h.6v.6h-.6zM300.2 140.3h.6v.6h-.6zM295.7 145.4h.6v.6h-.6zM296.7 130.8h.6v.6h-.6zM299.1 135.6h.6v.6h-.6zM295.0 137.4h.6v.6h-.6zM301.5 133.7h.6v.6h-.6zM299.3 145.4h.6v.6h-.6zM303.4 138.3h.6v.6h-.6zM300.6 138.5h.6v.6h-.6zM299.8 142.3h.6v.6h-.6zM299.5 128.2h.6v.6h-.6zM299.9 135.0h.6v.6h-.6zM303.3 136.3h.6v.6h-.6zM300.7 148.8h.6v.6h-.6zM294.8 133.9h.6v.6h-.6zM292.9 128.2h.6v.6h-.6zM290.6 140.6h.6v.6h-.6zM296.8 130.6h.6v.6h-.6zM292.6 141.8h.6v.6h-.6zM296.1 137.3h.6v.6h-.6zM301.7 145.1h.6v.6h-.6zM309.7 143.6h.6v.6h-.6zM300.7 139.8h.6v.6h-.6zM309.0 145.4h.6v.6h-.6zM298.4 141.1h.6v.6h-.6zM301.4 139.2h.6v.6h-.6zM297.5 133.0h.6v.6h-.6zM297.3 132.1h.6v.6h-.6zM306.1 141.4h.6v.6h-.6zM294.0 145.3h.6v.6h-.6zM304.5 130.4h.6v.6h-.6zM309.2 142.6h.6v.6h-.6zM310.3 133.5h.6v.6h-.6zM302.7 140.9h.6v.6h-.6zM301.0 139.8h.6v.6h-.6zM305.3 132.3h.6v.6h-.6zM293.8 132.7h.6v.6h-.6zM297.2 136.3h.6v.6h-.6zM301.8 140.2h.6v.6h-.6zM300.2 136.0h.6v.6h-.6zM297.8 143.3h.6v.6h-.6zM303.8 139.5h.6v.6h-.6zM298.4 146.0h.6v.6h-.6zM297.0 141.9h.6v.6h-.6zM305.8 137.8h.6v.6h-.6zM304.1 134.0h.6v.6h-.6zM305.1 139.9h.6v.6h-.6zM292.1 142.0h.6v.6h-.6zM295.5 144.8h.6v.6h-.6zM296.6 138.3h.6v.6h-.6zM301.4 137.5h.6v.6h-.6zM301.3 136.5h.6v.6h-.6zM303.4 139.0h.6v.6h-.6zM301.1 126.6h.6v.6h-.6zM305.8 139.1h.6v.6h-.6zM291.1 139.4h.6v.6h-.6zM302.3 143.8h.6v.6h-.6zM294.6 146.0h.6v.6h-.6zM299.2 149.8h.6v.6h-.6zM299.3 142.1h.6v.6h-.6zM298.2 134.0h.6v.6h-.6zM305.5 143.1h.6v.6h-.6zM307.7 142.9h.6v.6h-.6zM297.1 131.5h.6v.6h-.6zM296.7 136.0h.6v.6h-.6zM295.9 141.6h.6v.6h-.6zM301.6 137.8h.6v.6h-.6zM300.9 138.3h.6v.6h-.6zM301.1 142.4h.6v.6h-.6zM304.8 135.9h.6v.6h-.6zM292.5 145.4h.6v.6h-.6zM300.6 144.0h.6v.6h-.6zM291.8 137.5h.6v.6h-.6zM300.1 132.5h.6v.6h-.6zM297.4 142.3h.6v.6h-.6zM305.4 146.2h.6v.6h-.6zM295.7 132.7h.6v.6h-.6zM302.6 143.2h.6v.6h-.6zM301.0 133.1h.6v.6h-.6zM303.9 142.6h.6v.6h-.6zM302.8 136.8h.6v.6h-.6zM301.5 142.6h.6v.6h-.6zM297.2 130.7h.6v.6h-.6zM301.6 141.2h.6v.6h-.6zM300.1 143.0h.6v.6h-.6zM297.1 138.6h.6v.6h-.6zM298.5 141.6h.6v.6h-.6zM308.0 137.9h.6v.6h-.6zM310.3 145.9h.6v.6h-.6zM304.0 141.6h.6v.6h-.6zM308.9 138.2h.6v.6h-.6zM299.4 134.2h.6v.6h-.6zM302.4 145.1h.6v.6h-.6zM302.7 140.9h.6v.6h-.6zM299.0 139.8h.6v.6h-.6zM292.9 143.7h.6v.6h-.6zM298.0 134.0h.6v.6h-.6zM296.2 135.3h.6v.6h-.6zM304.3 143.8h.6v.6h-.6zM293.2 143.2h.6v.6h-.6zM304.4 136.4h.6v.6h-.6zM292.6 135.6h.6v.6h-.6zM296.8 140.5h.6v.6h-.6zM298.2 129.9h.6v.6h-.6zM301.2 132.1h.6v.6h-.6zM304.5 133.6h.6v.6h-.6zM296.5 135.2h.6v.6h-.6zM297.3 144.8h.6v.6h-.6zM304.3 141.7h.6v.6h-.6zM301.6 132.0h.6v.6h-.6zM297.4 136.5h.6v.6h-.6zM295.1 141.3h.6v.6h-.6zM322.3 137.5h.6v.6h-.6zM320.8 132.8h.6v.6h-.6zM329.0 144.7h.6v.6h-.6zM326.9 136.6h.6v.6h-.6zM312.5 140.6h.6v.6h-.6zM332.1 141.0h.6v.6h-.6zM330.6 145.2h.6v.6h-.6zM331.6 138.5h.6v.6h-.6zM331.3 142.7h.6v.6h-.6zM318.3 138.6h.6v.6h-.6zM318.9 139.6h.6v.6h-.6zM328.9 136.3h.6v.6h-.6zM315.7 144.5h.6v.6h-.6zM327.9 145.1h.6v.6h-.6zM319.4 143.7h.6v.6h-.6zM336.4 147.0h.6v.6h-.6zM324.9 140.9h.6v.6h-.6zM325.2 143.5h.6v.6h-.6zM331.2 140.3h.6v.6h-.6zM319.2 142.6h.6v.6h-.6zM323.7 142.2h.6v.6h-.6zM327.3 145.7h.6v.6h-.6zM331.7 138.4h.6v.6h-.6zM327.7 146.2h.6v.6h-.6zM323.3 141.5h.6v.6h-.6zM332.0 144.4h.6v.6h-.6zM328.6 135.4h.6v.6h-.6zM319.7 140.9h.6v.6h-.6zM327.9 148.9h.6v.6h-.6zM321.7 144.0h.6v.6h-.6zM329.9 134.1h.6v.6h-.6zM321.9 140.6h.6v.6h-.6zM323.5 139.5h.6v.6h-.6zM328.4 137.2h.6v.6h-.6zM328.3 137.8h.6v.6h-.6zM323.3 141.9h.6v.6h-.6zM323.1 141.0h.6v.6h-.6zM334.0 140.1h.6v.6h-.6zM325.3 142.6h.6v.6h-.6zM324.2 143.8h.6v.6h-.6zM319.6 142.2h.6v.6h-.6zM323.4 137.2h.6v.6h-.6zM334.8 137.0h.6v.6h-.6zM334.8 142.3h.6v.6h-.6zM333.3 136.6h.6v.6h-.6zM332.0 145.1h.6v.6h-.6zM325.4 139.5h.6v.6h-.6zM338.3 140.6h.6v.6h-.6zM323.9 137.8h.6v.6h-.6zM328.2 141.2h.6v.6h-.6zM326.9 146.0h.6v.6h-.6zM324.4 141.7h.6v.6h-.6zM333.3 136.5h.6v.6h-.6zM331.2 146.4h.6v.6h-.6zM319.2 136.2h.6v.6h-.6zM320.8 133.5h.6v.6h-.6zM328.3 133.5h.6v.6h-.6zM328.5 145.1h.6v.6h-.6zM317.9 138.9h.6v.6h-.6zM316.4 142.7h.6v.6h-.6zM322.3 139.1h.6v.6h-.6zM326.3 141.9h.6v.6h-.6zM324.3 140.1h.6v.6h-.6zM323.3 140.4h.6v.6h-.6zM320.1 140.2h.6v.6h-.6zM316.3 138.3h.6v.6h-.6zM335.6 140.3h.6v.6h-.6zM319.7 140.9h.6v.6h-.6zM321.1 134.2h.6v.6h-.6zM322.3 142.6h.6v.6h-.6zM327.9 139.7h.6v.6h-.6zM321.4 136.2h.6v.6h-.6zM332.7 140.9h.6v.6h-.6zM321.2 132.6h.6v.6h-.6zM319.2 148.7h.6v.6h-.6zM320.3 139.7h.6v.6h-.6zM327.1 139.4h.6v.6h-.6zM324.6 135.2h.6v.6h-.6zM320.7 145.9h.6v.6h-.6zM322.2 143.0h.6v.6h-.6zM317.5 139.0h.6v.6h-.6zM327.3 143.6h.6v.6h-.6zM320.4 142.1h.6v.6h-.6zM327.9 137.4h.6v.6h-.6zM328.4 136.9h.6v.6h-.6zM322.0 139.9h.6v.6h-.6zM312.4 139.6h.6v.6h-.6zM321.0 134.9h.6v.6h-.6zM323.9 142.7h.6v.6h-.6zM324.0 144.4h.6v.6h-.6zM320.2 135.4h.6v.6h-.6zM333.8 141.4h.6v.6h-.6zM330.7 137.1h.6v.6h-.6zM330.0 140.9h.6v.6h-.6zM329.2 140.1h.6v.6h-.6zM332.0 137.7h.6v.6h-.6zM321.2 134.8h.6v.6h-.6zM331.8 137.4h.6v.6h-.6zM320.8 136.7h.6v.6h-.6zM323.8 135.6h.6v.6h-.6zM324.5 137.8h.6v.6h-.6zM323.2 136.6h.6v.6h-.6zM326.2 138.4h.6v.6h-.6zM326.6 140.9h.6v.6h-.6zM327.7 132.3h.6v.6h-.6zM323.3 137.2h.6v.6h-.6zM329.9 134.5h.6v.6h-.6zM322.4 139.0h.6v.6h-.6zM324.3 143.5h.6v.6h-.6zM323.8 143.4h.6v.6h-.6zM318.7 133.7h.6v.6h-.6zM332.1 141.5h.6v.6h-.6zM328.4 140.4h.6v.6h-.6zM328.4 135.7h.6v.6h-.6zM330.7 138.1h.6v.6h-.6zM330.9 140.3h.6v.6h-.6zM316.1 135.5h.6v.6h-.6zM331.6 139.5h.6v.6h-.6zM324.0 140.8h.6v.6h-.6zM323.9 138.1h.6v.6h-.6zM326.5 140.5h.6v.6h-.6zM333.6 140.2h.6v.6h-.6zM335.4 146.3h.6v.6h-.6zM334.6 143.7h.6v.6h-.6zM326.7 140.5h.6v.6h-.6zM325.3 137.4h.6v.6h-.6zM325.7 137.8h.6v.6h-.6zM334.2 141.9h.6v.6h-.6zM323.8 133.3h.6v.6h-.6zM325.7 138.5h.6v.6h-.6zM320.6 136.0h.6v.6h-.6zM314.7 142.0h.6v.6h-.6zM325.7 149.0h.6v.6h-.6zM325.8 139.5h.6v.6h-.6zM333.2 140.5h.6v.6h-.6zM326.8 138.7h.6v.6h-.6zM323.0 145.2h.6v.6h-.6zM331.0 146.0h.6v.6h-.6zM324.3 140.1h.6v.6h-.6zM321.6 143.4h.6v.6h-.6zM319.0 142.0h.6v.6h-.6zM331.5 144.9h.6v.6h-.6zM321.3 143.8h.6v.6h-.6zM322.4 137.4h.6v.6h-.6zM319.4 144.0h.6v.6h-.6zM334.2 137.9h.6v.6h-.6zM322.2 138.8h.6v.6h-.6zM338.5 143.5h.6v.6h-.6zM323.3 133.7h.6v.6h-.6zM322.6 144.2h.6v.6h-.6zM335.3 139.1h.6v.6h-.6zM322.5 138.2h.6v.6h-.6zM316.6 143.2h.6v.6h-.6zM320.6 143.7h.6v.6h-.6zM317.5 135.6h.6v.6h-.6zM327.4 137.3h.6v.6h-.6zM329.9 140.0h.6v.6h-.6zM320.1 142.2h.6v.6h-.6zM330.2 133.3h.6v.6h-.6zM335.1 141.7h.6v.6h-.6zM329.8 133.5h.6v.6h-.6zM322.4 138.8h.6v.6h-.6zM331.4 134.9h.6v.6h-.6zM321.6 132.9h.6v.6h-.6zM324.8 141.2h.6v.6h-.6zM317.6 137.9h.6v.6h-.6zM328.6 145.5h.6v.6h-.6zM329.3 138.9h.6v.6h-.6zM320.1 136.7h.6v.6h-.6zM322.7 140.5h.6v.6h-.6zM325.8 145.8h.6v.6h-.6zM327.4 136.2h.6v.6h-.6zM333.7 143.3h.6v.6h-.6zM326.5 137.5h.6v.6h-.6zM316.6 136.4h.6v.6h-.6zM330.6 137.2h.6v.6h-.6zM319.4 140.7h.6v.6h-.6zM327.2 142.1h.6v.6h-.6zM329.3 144.9h.6v.6h-.6zM321.8 143.4h.6v.6h-.6zM321.1 142.4h.6v.6h-.6zM326.9 140.9h.6v.6h-.6zM330.8 139.9h.6v.6h-.6zM331.6 143.1h.6v.6h-.6zM326.7 138.0h.6v.6h-.6zM322.2 138.2h.6v.6h-.6zM325.0 139.9h.6v.6h-.6zM340.9 142.2h.6v.6h-.6zM329.8 137.0h.6v.6h-.6zM322.4 138.9h.6v.6h-.6zM327.0 136.4h.6v.6h-.6zM334.1 138.0h.6v.6h-.6zM331.4 131.8h.6v.6h-.6zM326.0 141.0h.6v.6h-.6zM327.0 142.1h.6v.6h-.6zM327.4 140.6h.6v.6h-.6zM316.5 137.5h.6v.6h-.6zM314.3 142.2h.6v.6h-.6zM327.5 139.3h.6v.6h-.6zM321.9 138.0h.6v.6h-.6zM335.2 146.1h.6v.6h-.6zM325.7 144.5h.6v.6h-.6zM318.1 133.2h.6v.6h-.6zM323.6 136.9h.6v.6h-.6zM323.2 140.7h.6v.6h-.6zM341.1 137.7h.6v.6h-.6zM326.2 141.0h.6v.6h-.6zM325.8 143.3h.6v.6h-.6zM334.9 135.6h.6v.6h-.6zM326.8 139.1h.6v.6h-.6zM327.8 134.6h.6v.6h-.6zM317.2 131.9h.6v.6h-.6zM328.6 140.7h.6v.6h-.6zM326.4 131.7h.6v.6h-.6zM324.1 137.4h.6v.6h-.6zM318.9 136.8h.6v.6h-.6zM329.5 141.9h.6v.6h-.6zM325.9 141.8h.6v.6h-.6zM323.0 140.2h.6v.6h-.6zM326.2 141.9h.6v.6h-.6zM311.8 137.5h.6v.6h-.6zM311.5 135.7h.6v.6h-.6zM319.8 139.8h.6v.6h-.6zM313.5 146.0h.6v.6h-.6zM316.9 132.6h.6v.6h-.6zM314.4 140.9h.6v.6h-.6zM318.6 142.6h.6v.6h-.6zM314.7 133.9h.6v.6h-.6zM309.0 138.9h.6v.6h-.6zM313.8 134.4h.6v.6h-.6zM310.7 136.6h.6v.6h-.6zM312.2 139.2h.6v.6h-.6zM311.0 133.7h.6v.6h-.6zM316.3 143.6h.6v.6h-.6zM311.6 141.6h.6v.6h-.6zM313.6 140.3h.6v.6h-.6zM313.7 135.3h.6v.6h-.6zM314.0 141.5h.6v.6h-.6zM308.9 144.9h.6v.6h-.6zM319.3 144.4h.6v.6h-.6zM319.0 140.6h.6v.6h-.6zM310.8 135.9h.6v.6h-.6zM309.2 138.4h.6v.6h-.6zM311.9 140.3h.6v.6h-.6zM304.9 146.1h.6v.6h-.6zM320.0 137.9h.6v.6h-.6zM314.4 139.7h.6v.6h-.6zM313.0 137.3h.6v.6h-.6zM311.6 135.1h.6v.6h-.6zM312.6 137.9h.6v.6h-.6zM313.1 135.0h.6v.6h-.6zM312.1 138.2h.6v.6h-.6zM314.1 134.3h.6v.6h-.6zM313.5 141.4h.6v.6h-.6zM314.1 136.7h.6v.6h-.6zM310.3 137.2h.6v.6h-.6zM314.6 143.4h.6v.6h-.6zM311.4 135.8h.6v.6h-.6zM313.3 138.7h.6v.6h-.6zM308.8 135.4h.6v.6h-.6zM311.6 140.4h.6v.6h-.6zM307.8 134.4h.6v.6h-.6zM313.7 133.7h.6v.6h-.6zM312.4 139.2h.6v.6h-.6zM311.6 134.4h.6v.6h-.6zM311.8 136.8h.6v.6h-.6zM313.2 135.1h.6v.6h-.6zM315.8 132.1h.6v.6h-.6zM311.4 138.0h.6v.6h-.6zM315.4 135.9h.6v.6h-.6zM313.9 136.0h.6v.6h-.6zM314.6 144.1h.6v.6h-.6zM310.6 139.6h.6v.6h-.6zM308.8 141.4h.6v.6h-.6zM316.2 138.1h.6v.6h-.6zM308.0 139.4h.6v.6h-.6zM316.0 141.8h.6v.6h-.6zM314.8 131.6h.6v.6h-.6zM309.6 143.0h.6v.6h-.6zM307.7 142.0h.6v.6h-.6zM318.6 140.7h.6v.6h-.6zM315.9 136.8h.6v.6h-.6zM307.7 137.6h.6v.6h-.6zM311.3 137.8h.6v.6h-.6zM314.4 137.5h.6v.6h-.6zM312.7 139.5h.6v.6h-.6zM312.0 144.5h.6v.6h-.6zM313.5 138.3h.6v.6h-.6zM311.3 135.8h.6v.6h-.6zM316.7 138.5h.6v.6h-.6zM308.2 136.0h.6v.6h-.6zM311.5 136.4h.6v.6h-.6zM315.8 133.9h.6v.6h-.6zM313.7 138.5h.6v.6h-.6zM307.9 138.2h.6v.6h-.6zM311.7 139.8h.6v.6h-.6zM310.4 139.1h.6v.6h-.6zM306.2 134.2h.6v.6h-.6zM314.7 141.6h.6v.6h-.6zM312.0 135.9h.6v.6h-.6zM325.6 121.5h.6v.6h-.6zM312.4 135.4h.6v.6h-.6zM322.6 126.8h.6v.6h-.6zM304.8 139.3h.6v.6h-.6zM319.1 127.5h.6v.6h-.6zM318.4 136.5h.6v.6h-.6zM299.9 137.6h.6v.6h-.6zM323.2 121.6h.6v.6h-.6zM323.4 123.1h.6v.6h-.6zM326.0 134.0h.6v.6h-.6zM333.8 128.9h.6v.6h-.6zM318.0 137.2h.6v.6h-.6zM313.5 128.5h.6v.6h-.6zM315.4 131.6h.6v.6h-.6zM310.4 134.4h.6v.6h-.6zM321.8 132.4h.6v.6h-.6zM329.9 130.4h.6v.6h-.6zM327.1 129.3h.6v.6h-.6zM323.3 122.3h.6v.6h-.6zM319.4 131.1h.6v.6h-.6zM314.5 128.9h.6v.6h-.6zM315.6 128.4h.6v.6h-.6zM302.6 129.0h.6v.6h-.6zM314.2 129.4h.6v.6h-.6zM310.6 131.3h.6v.6h-.6zM323.5 130.7h.6v.6h-.6zM314.6 138.8h.6v.6h-.6zM324.8 136.6h.6v.6h-.6zM326.1 130.4h.6v.6h-.6zM317.1 137.6h.6v.6h-.6zM314.1 131.4h.6v.6h-.6zM320.6 133.9h.6v.6h-.6zM316.1 136.9h.6v.6h-.6zM316.8 135.6h.6v.6h-.6zM325.5 135.3h.6v.6h-.6zM323.1 126.2h.6v.6h-.6zM308.8 128.9h.6v.6h-.6zM321.3 139.5h.6v.6h-.6zM309.4 133.5h.6v.6h-.6zM312.0 128.3h.6v.6h-.6zM316.1 135.5h.6v.6h-.6zM319.5 137.9h.6v.6h-.6zM311.1 136.4h.6v.6h-.6zM324.5 132.3h.6v.6h-.6zM321.3 129.2h.6v.6h-.6zM310.4 130.0h.6v.6h-.6zM313.5 146.5h.6v.6h-.6zM314.6 140.3h.6v.6h-.6zM319.4 133.6h.6v.6h-.6zM323.2 128.1h.6v.6h-.6zM324.4 133.9h.6v.6h-.6zM307.4 135.0h.6v.6h-.6zM321.9 134.3h.6v.6h-.6zM329.1 129.9h.6v.6h-.6zM321.6 135.7h.6v.6h-.6zM311.7 138.0h.6v.6h-.6zM307.8 125.5h.6v.6h-.6zM321.7 126.6h.6v.6h-.6zM317.2 123.8h.6v.6h-.6zM318.5 126.3h.6v.6h-.6zM339.0 133.4h.5v.5h-.5zM346.5 105.6h.5v.5h-.5zM344.0 99.7h.5v.5h-.5zM337.9 127.5h.5v.5h-.5zM322.3 145.5h.5v.5h-.5zM326.6 119.5h.5v.5h-.5zM338.9 141.2h.5v.5h-.5zM328.7 117.6h.5v.5h-.5zM319.7 121.4h.5v.5h-.5zM335.4 113.5h.5v.5h-.5zM316.1 126.0h.5v.5h-.5zM315.7 114.9h.5v.5h-.5zM339.1 140.1h.5v.5h-.5zM322.4 120.7h.5v.5h-.5zM304.1 114.0h.5v.5h-.5zM301.8 127.0h.5v.5h-.5zM327.2 103.7h.5v.5h-.5zM346.9 115.0h.5v.5h-.5zM342.4 139.6h.5v.5h-.5zM349.1 109.3h.5v.5h-.5zM318.2 143.0h.5v.5h-.5zM294.0 101.8h.5v.5h-.5zM326.2 123.3h.5v.5h-.5zM346.9 136.5h.5v.5h-.5zM324.7 147.2h.5v.5h-.5zM323.5 124.2h.5v.5h-.5zM333.2 118.1h.5v.5h-.5zM314.2 127.9h.5v.5h-.5zM313.8 144.8h.5v.5h-.5zM332.7 124.6h.5v.5h-.5zM299.1 117.4h.5v.5h-.5zM316.7 126.3h.5v.5h-.5zM326.8 141.6h.5v.5h-.5zM349.4 122.8h.5v.5h-.5zM319.0 129.4h.5v.5h-.5zM351.3 115.9h.5v.5h-.5zM324.2 138.5h.5v.5h-.5zM303.3 114.7h.5v.5h-.5zM350.2 139.0h.5v.5h-.5zM323.2 104.8h.5v.5h-.5zM345.4 132.5h.5v.5h-.5zM341.1 146.8h.5v.5h-.5zM345.0 119.6h.5v.5h-.5zM302.5 113.4h.5v.5h-.5zM323.1 123.6h.5v.5h-.5zM304.3 108.2h.5v.5h-.5zM330.0 128.3h.5v.5h-.5zM313.9 147.0h.5v.5h-.5zM330.4 101.5h.5v.5h-.5zM317.3 137.1h.5v.5h-.5zM311.2 132.5h.5v.5h-.5zM293.6 114.1h.5v.5h-.5zM342.3 127.5h.5v.5h-.5zM332.2 108.9h.5v.5h-.5zM322.3 125.9h.5v.5h-.5zM308.9 130.4h.5v.5h-.5zM324.3 147.2h.5v.5h-.5zM326.8 119.2h.5v.5h-.5zM300.5 107.0h.5v.5h-.5zM337.5 104.6h.5v.5h-.5zM299.2 107.7h.5v.5h-.5zM323.8 138.8h.5v.5h-.5zM329.0 138.1h.5v.5h-.5zM297.0 100.1h.5v.5h-.5zM338.2 114.9h.5v.5h-.5zM335.0 116.4h.5v.5h-.5zM303.2 112.2h.5v.5h-.5zM299.2 142.7h.5v.5h-.5zM327.2 116.2h.5v.5h-.5zM319.5 117.9h.5v.5h-.5zM296.6 142.1h.5v.5h-.5zM327.3 145.4h.5v.5h-.5zM318.9 129.1h.5v.5h-.5zM307.9 101.6h.5v.5h-.5zM347.5 140.4h.5v.5h-.5zM311.7 142.5h.5v.5h-.5zM340.8 114.0h.5v.5h-.5zM328.4 145.4h.5v.5h-.5zM322.2 144.9h.5v.5h-.5zM307.5 118.1h.5v.5h-.5zM335.1 110.1h.5v.5h-.5zM311.4 141.3h.5v.5h-.5zM321.5 137.4h.5v.5h-.5zM307.5 107.8h.5v.5h-.5zM314.2 108.4h.5v.5h-.5zM349.8 113.4h.5v.5h-.5zM326.0 105.0h.5v.5h-.5zM324.4 117.9h.5v.5h-.5zM316.8 102.6h.5v.5h-.5zM300.6 139.0h.5v.5h-.5z" fill="#4a4a4a" opacity="0.55"/>
</g>
<line x1="317.5" y1="99.5" x2="317.5" y2="147.3" stroke="#777" stroke-width="0.6"/>
<line x1="293.4" y1="131.1" x2="351.5" y2="131.1" stroke="#777" stroke-width="0.6"/>
<text x="288.0" y="104.8" font-size="3.4" fill="#666">10</text>
<text x="288.0" y="116.8" font-size="3.4" fill="#666">10</text>
<text x="288.0" y="130.1" font-size="3.4" fill="#666">10</text>
<text x="288.0" y="141.39999999999998" font-size="3.4" fill="#666">10</text>
<text x="299.834" y="151.9" font-size="3.4" fill="#666">10</text>
<text x="314.94" y="151.9" font-size="3.4" fill="#666">10</text>
<text x="329.465" y="151.9" font-size="3.4" fill="#666">10</text>
<text x="342.82800000000003" y="151.9" font-size="3.4" fill="#666">10</text>
<rect x="360.40" y="99.50" width="57.80" height="47.80" fill="#fff" stroke="#888" stroke-width="0.7"/>
<clipPath id="cf2"><rect x="360.4" y="99.5" width="57.80000000000001" height="47.80000000000001"/></clipPath>
<g clip-path="url(#cf2)">
<ellipse cx="392.5" cy="136" rx="9" ry="14" fill="url(#fg)" opacity="1.0" transform="rotate(28 392.5 136)"/>
<ellipse cx="391" cy="141" rx="7" ry="6" fill="url(#fg)" opacity="0.7" transform="rotate(0 391 141)"/>
<ellipse cx="380" cy="135" rx="8" ry="7" fill="url(#fg)" opacity="0.3" transform="rotate(0 380 135)"/>
<ellipse cx="396" cy="125" rx="9" ry="9" fill="url(#fg)" opacity="0.25" transform="rotate(0 396 125)"/>
<path d="M388.0 135.4h.6v.6h-.6zM392.6 148.2h.6v.6h-.6zM397.0 138.8h.6v.6h-.6zM394.6 135.2h.6v.6h-.6zM388.8 130.4h.6v.6h-.6zM395.4 139.5h.6v.6h-.6zM394.7 128.8h.6v.6h-.6zM394.0 132.2h.6v.6h-.6zM391.1 139.1h.6v.6h-.6zM383.8 130.7h.6v.6h-.6zM389.8 127.2h.6v.6h-.6zM384.0 140.2h.6v.6h-.6zM393.5 140.5h.6v.6h-.6zM394.3 125.6h.6v.6h-.6zM390.3 136.5h.6v.6h-.6zM390.0 140.1h.6v.6h-.6zM385.2 146.3h.6v.6h-.6zM388.6 149.6h.6v.6h-.6zM394.2 135.1h.6v.6h-.6zM386.5 139.2h.6v.6h-.6zM396.1 139.2h.6v.6h-.6zM395.0 135.2h.6v.6h-.6zM391.8 133.3h.6v.6h-.6zM388.4 125.8h.6v.6h-.6zM392.2 136.8h.6v.6h-.6zM394.7 142.1h.6v.6h-.6zM394.0 137.2h.6v.6h-.6zM383.4 131.5h.6v.6h-.6zM387.4 137.1h.6v.6h-.6zM392.5 133.3h.6v.6h-.6zM391.3 133.0h.6v.6h-.6zM390.0 122.0h.6v.6h-.6zM395.9 141.2h.6v.6h-.6zM391.9 132.9h.6v.6h-.6zM380.4 155.2h.6v.6h-.6zM394.5 137.0h.6v.6h-.6zM397.6 120.0h.6v.6h-.6zM388.5 144.7h.6v.6h-.6zM395.3 139.5h.6v.6h-.6zM394.0 127.4h.6v.6h-.6zM394.1 133.5h.6v.6h-.6zM382.6 143.7h.6v.6h-.6zM390.6 130.6h.6v.6h-.6zM377.5 141.4h.6v.6h-.6zM392.1 135.1h.6v.6h-.6zM396.4 131.3h.6v.6h-.6zM389.1 136.4h.6v.6h-.6zM388.2 136.1h.6v.6h-.6zM394.8 143.1h.6v.6h-.6zM394.6 145.5h.6v.6h-.6zM398.4 141.3h.6v.6h-.6zM397.8 130.1h.6v.6h-.6zM394.1 131.1h.6v.6h-.6zM395.6 129.3h.6v.6h-.6zM385.3 152.5h.6v.6h-.6zM387.5 137.8h.6v.6h-.6zM397.4 132.7h.6v.6h-.6zM393.0 132.1h.6v.6h-.6zM396.3 132.9h.6v.6h-.6zM400.0 146.7h.6v.6h-.6zM390.0 151.6h.6v.6h-.6zM398.3 138.1h.6v.6h-.6zM393.8 136.9h.6v.6h-.6zM390.4 142.5h.6v.6h-.6zM390.1 121.4h.6v.6h-.6zM389.7 138.0h.6v.6h-.6zM391.2 133.7h.6v.6h-.6zM394.7 142.4h.6v.6h-.6zM393.2 133.6h.6v.6h-.6zM385.0 135.8h.6v.6h-.6zM396.1 130.1h.6v.6h-.6zM395.6 134.5h.6v.6h-.6zM396.5 124.8h.6v.6h-.6zM398.5 132.9h.6v.6h-.6zM392.9 137.7h.6v.6h-.6zM390.5 134.0h.6v.6h-.6zM392.4 133.5h.6v.6h-.6zM395.3 132.0h.6v.6h-.6zM394.8 137.6h.6v.6h-.6zM386.5 135.5h.6v.6h-.6zM389.3 137.5h.6v.6h-.6zM382.1 132.6h.6v.6h-.6zM385.0 127.8h.6v.6h-.6zM403.0 146.1h.6v.6h-.6zM399.0 133.1h.6v.6h-.6zM388.2 132.3h.6v.6h-.6zM394.4 135.4h.6v.6h-.6zM392.6 128.3h.6v.6h-.6zM385.5 144.4h.6v.6h-.6zM393.7 133.0h.6v.6h-.6zM394.6 128.8h.6v.6h-.6zM386.6 133.5h.6v.6h-.6zM396.1 141.5h.6v.6h-.6zM382.0 142.0h.6v.6h-.6zM387.3 147.9h.6v.6h-.6zM396.4 127.0h.6v.6h-.6zM393.9 135.2h.6v.6h-.6zM390.6 128.7h.6v.6h-.6zM393.7 129.4h.6v.6h-.6zM393.9 138.9h.6v.6h-.6zM391.9 132.5h.6v.6h-.6zM394.7 140.1h.6v.6h-.6zM386.9 134.9h.6v.6h-.6zM398.4 141.3h.6v.6h-.6zM384.0 143.5h.6v.6h-.6zM401.9 142.1h.6v.6h-.6zM388.2 122.0h.6v.6h-.6zM400.5 139.0h.6v.6h-.6zM393.5 141.1h.6v.6h-.6zM387.6 147.1h.6v.6h-.6zM391.3 140.6h.6v.6h-.6zM393.0 138.8h.6v.6h-.6zM406.0 134.9h.6v.6h-.6zM384.1 140.9h.6v.6h-.6zM387.0 135.0h.6v.6h-.6zM385.2 140.4h.6v.6h-.6zM390.2 140.9h.6v.6h-.6zM390.1 134.1h.6v.6h-.6zM380.7 136.8h.6v.6h-.6zM394.1 137.4h.6v.6h-.6zM394.0 134.2h.6v.6h-.6zM386.0 148.0h.6v.6h-.6zM391.7 132.1h.6v.6h-.6zM394.5 139.4h.6v.6h-.6zM384.7 145.4h.6v.6h-.6zM400.3 138.0h.6v.6h-.6zM404.4 131.7h.6v.6h-.6zM404.0 129.7h.6v.6h-.6zM394.5 136.4h.6v.6h-.6zM389.0 139.6h.6v.6h-.6zM391.2 129.7h.6v.6h-.6zM383.0 143.4h.6v.6h-.6zM389.0 137.3h.6v.6h-.6zM388.2 142.4h.6v.6h-.6zM391.3 128.8h.6v.6h-.6zM389.4 136.2h.6v.6h-.6zM387.9 137.6h.6v.6h-.6zM391.3 144.1h.6v.6h-.6zM390.1 146.3h.6v.6h-.6zM392.8 132.5h.6v.6h-.6zM392.1 130.7h.6v.6h-.6zM385.9 136.0h.6v.6h-.6zM399.9 123.5h.6v.6h-.6zM394.5 131.6h.6v.6h-.6zM389.8 132.7h.6v.6h-.6zM397.0 139.6h.6v.6h-.6zM383.4 134.1h.6v.6h-.6zM383.6 144.7h.6v.6h-.6zM390.8 134.8h.6v.6h-.6zM394.5 130.7h.6v.6h-.6zM391.3 134.7h.6v.6h-.6zM400.9 141.7h.6v.6h-.6zM394.2 138.1h.6v.6h-.6zM392.2 138.9h.6v.6h-.6zM407.9 121.0h.6v.6h-.6zM392.8 129.7h.6v.6h-.6zM398.6 133.2h.6v.6h-.6zM392.8 145.2h.6v.6h-.6zM388.5 138.7h.6v.6h-.6zM387.9 140.6h.6v.6h-.6zM390.6 145.0h.6v.6h-.6zM399.1 131.9h.6v.6h-.6zM398.2 139.8h.6v.6h-.6zM396.5 139.3h.6v.6h-.6zM400.2 131.2h.6v.6h-.6zM401.1 133.3h.6v.6h-.6zM390.4 139.2h.6v.6h-.6zM385.3 135.8h.6v.6h-.6zM390.0 141.7h.6v.6h-.6zM395.5 130.3h.6v.6h-.6zM390.9 129.3h.6v.6h-.6zM393.7 135.8h.6v.6h-.6zM389.9 147.3h.6v.6h-.6zM392.9 133.1h.6v.6h-.6zM392.6 140.1h.6v.6h-.6zM386.1 128.0h.6v.6h-.6zM390.9 140.4h.6v.6h-.6zM394.0 129.2h.6v.6h-.6zM410.9 121.6h.6v.6h-.6zM400.3 135.3h.6v.6h-.6zM391.1 135.3h.6v.6h-.6zM397.0 130.9h.6v.6h-.6zM386.0 135.1h.6v.6h-.6zM398.4 136.9h.6v.6h-.6zM405.6 132.9h.6v.6h-.6zM394.1 140.6h.6v.6h-.6zM401.3 132.0h.6v.6h-.6zM395.4 136.6h.6v.6h-.6zM384.9 128.4h.6v.6h-.6zM388.0 130.7h.6v.6h-.6zM395.2 136.7h.6v.6h-.6zM397.6 144.1h.6v.6h-.6zM391.3 132.8h.6v.6h-.6zM396.4 132.5h.6v.6h-.6zM392.8 141.0h.6v.6h-.6zM395.7 139.5h.6v.6h-.6zM396.9 129.7h.6v.6h-.6zM393.8 136.2h.6v.6h-.6zM391.9 139.6h.6v.6h-.6zM391.1 132.9h.6v.6h-.6zM393.6 128.2h.6v.6h-.6zM388.9 126.6h.6v.6h-.6zM401.9 123.6h.6v.6h-.6zM392.1 142.1h.6v.6h-.6zM397.2 136.5h.6v.6h-.6zM387.8 142.4h.6v.6h-.6zM390.0 148.6h.6v.6h-.6zM392.4 133.3h.6v.6h-.6zM398.1 136.8h.6v.6h-.6zM387.8 144.4h.6v.6h-.6zM396.9 136.1h.6v.6h-.6zM394.9 137.8h.6v.6h-.6zM395.6 141.1h.6v.6h-.6zM383.6 145.6h.6v.6h-.6zM392.1 137.1h.6v.6h-.6zM390.1 135.6h.6v.6h-.6zM389.3 139.5h.6v.6h-.6zM390.8 145.2h.6v.6h-.6zM397.3 135.6h.6v.6h-.6zM392.5 130.6h.6v.6h-.6zM399.0 134.3h.6v.6h-.6zM397.9 141.3h.6v.6h-.6zM391.8 138.0h.6v.6h-.6zM399.3 141.5h.6v.6h-.6zM394.6 129.9h.6v.6h-.6zM388.5 129.5h.6v.6h-.6zM395.7 143.4h.6v.6h-.6zM397.7 120.4h.6v.6h-.6zM395.8 141.5h.6v.6h-.6zM385.2 131.3h.6v.6h-.6zM385.0 140.8h.6v.6h-.6zM397.3 134.1h.6v.6h-.6zM384.8 130.3h.6v.6h-.6zM401.1 145.1h.6v.6h-.6zM387.5 141.4h.6v.6h-.6zM385.1 145.9h.6v.6h-.6zM387.2 130.5h.6v.6h-.6zM394.9 147.2h.6v.6h-.6zM399.6 128.9h.6v.6h-.6zM390.5 141.0h.6v.6h-.6zM390.8 135.9h.6v.6h-.6zM397.4 136.3h.6v.6h-.6zM395.5 136.2h.6v.6h-.6zM393.0 124.9h.6v.6h-.6zM392.7 129.5h.6v.6h-.6zM396.3 139.0h.6v.6h-.6zM380.1 141.6h.6v.6h-.6zM403.7 138.7h.6v.6h-.6zM395.1 136.8h.6v.6h-.6zM395.2 138.7h.6v.6h-.6zM394.4 137.2h.6v.6h-.6zM391.2 132.8h.6v.6h-.6zM391.6 130.5h.6v.6h-.6zM382.3 151.3h.6v.6h-.6zM389.4 149.5h.6v.6h-.6zM387.5 131.4h.6v.6h-.6zM392.3 146.2h.6v.6h-.6zM395.9 134.5h.6v.6h-.6zM386.0 134.5h.6v.6h-.6zM385.1 134.2h.6v.6h-.6zM392.6 130.6h.6v.6h-.6zM394.8 124.8h.6v.6h-.6zM386.3 135.1h.6v.6h-.6zM392.3 129.1h.6v.6h-.6zM394.2 141.2h.6v.6h-.6zM398.8 126.8h.6v.6h-.6zM394.9 141.3h.6v.6h-.6zM390.4 129.8h.6v.6h-.6zM392.0 145.0h.6v.6h-.6zM394.8 127.9h.6v.6h-.6zM398.9 135.6h.6v.6h-.6zM395.5 138.1h.6v.6h-.6zM393.3 133.3h.6v.6h-.6zM399.6 137.1h.6v.6h-.6zM394.7 132.4h.6v.6h-.6zM400.3 140.8h.6v.6h-.6zM388.5 133.3h.6v.6h-.6zM386.4 131.2h.6v.6h-.6zM383.7 141.1h.6v.6h-.6zM390.5 153.8h.6v.6h-.6zM394.1 130.3h.6v.6h-.6zM383.4 133.5h.6v.6h-.6zM385.2 143.0h.6v.6h-.6zM405.5 132.0h.6v.6h-.6zM386.4 146.9h.6v.6h-.6zM390.7 125.9h.6v.6h-.6zM394.8 140.7h.6v.6h-.6zM383.7 135.7h.6v.6h-.6zM391.1 135.9h.6v.6h-.6zM388.4 148.3h.6v.6h-.6zM399.2 132.6h.6v.6h-.6zM395.8 144.3h.6v.6h-.6zM396.7 133.4h.6v.6h-.6zM388.9 134.8h.6v.6h-.6zM396.8 142.6h.6v.6h-.6zM392.2 138.7h.6v.6h-.6zM394.8 135.3h.6v.6h-.6zM399.0 124.9h.6v.6h-.6zM389.3 142.0h.6v.6h-.6zM388.5 146.1h.6v.6h-.6zM399.9 137.8h.6v.6h-.6zM387.4 133.7h.6v.6h-.6zM384.4 138.5h.6v.6h-.6zM389.7 140.4h.6v.6h-.6zM393.9 131.0h.6v.6h-.6zM399.3 138.7h.6v.6h-.6zM392.2 137.4h.6v.6h-.6zM391.8 133.2h.6v.6h-.6zM387.1 133.1h.6v.6h-.6zM397.0 131.0h.6v.6h-.6zM387.2 129.0h.6v.6h-.6zM392.7 141.5h.6v.6h-.6zM396.7 131.3h.6v.6h-.6zM394.6 135.7h.6v.6h-.6zM394.2 140.7h.6v.6h-.6zM388.1 135.4h.6v.6h-.6zM389.8 143.0h.6v.6h-.6zM404.6 130.9h.6v.6h-.6zM392.2 131.5h.6v.6h-.6zM391.4 133.1h.6v.6h-.6zM396.8 143.7h.6v.6h-.6zM390.3 139.5h.6v.6h-.6zM394.9 133.6h.6v.6h-.6zM390.8 139.6h.6v.6h-.6zM400.3 132.6h.6v.6h-.6zM392.0 138.5h.6v.6h-.6zM395.2 135.1h.6v.6h-.6zM396.1 126.1h.6v.6h-.6zM390.6 130.2h.6v.6h-.6zM388.4 137.1h.6v.6h-.6zM392.6 132.5h.6v.6h-.6zM389.1 135.1h.6v.6h-.6zM381.8 142.6h.6v.6h-.6zM389.2 129.6h.6v.6h-.6zM392.5 135.7h.6v.6h-.6zM400.7 124.6h.6v.6h-.6zM396.4 128.4h.6v.6h-.6zM404.4 126.6h.6v.6h-.6zM390.2 139.4h.6v.6h-.6zM391.6 136.8h.6v.6h-.6zM391.3 138.6h.6v.6h-.6zM396.3 138.5h.6v.6h-.6zM396.9 138.7h.6v.6h-.6zM400.4 130.1h.6v.6h-.6zM396.9 142.4h.6v.6h-.6zM389.6 147.8h.6v.6h-.6zM392.7 128.3h.6v.6h-.6zM378.6 137.3h.6v.6h-.6zM387.8 149.9h.6v.6h-.6zM391.6 138.9h.6v.6h-.6zM391.8 137.8h.6v.6h-.6zM395.6 133.2h.6v.6h-.6zM390.8 132.3h.6v.6h-.6zM383.6 142.1h.6v.6h-.6zM390.3 132.9h.6v.6h-.6zM394.3 132.5h.6v.6h-.6zM397.1 141.6h.6v.6h-.6zM401.0 129.7h.6v.6h-.6zM396.7 120.9h.6v.6h-.6zM399.0 134.9h.6v.6h-.6zM390.9 144.5h.6v.6h-.6zM384.6 137.3h.6v.6h-.6zM390.6 137.5h.6v.6h-.6zM391.6 139.6h.6v.6h-.6zM396.8 126.3h.6v.6h-.6zM389.7 133.1h.6v.6h-.6zM395.5 129.0h.6v.6h-.6zM389.8 134.7h.6v.6h-.6zM396.9 138.2h.6v.6h-.6zM389.4 135.3h.6v.6h-.6zM387.1 136.0h.6v.6h-.6zM384.2 137.5h.6v.6h-.6zM385.7 141.9h.6v.6h-.6zM393.0 132.5h.6v.6h-.6zM394.3 134.2h.6v.6h-.6zM385.9 147.5h.6v.6h-.6zM393.0 140.6h.6v.6h-.6zM380.2 139.4h.6v.6h-.6zM395.7 136.6h.6v.6h-.6zM392.6 124.5h.6v.6h-.6zM389.3 133.7h.6v.6h-.6zM392.3 138.4h.6v.6h-.6zM393.4 137.2h.6v.6h-.6zM396.0 127.4h.6v.6h-.6zM397.8 146.5h.6v.6h-.6zM396.9 137.6h.6v.6h-.6zM382.1 142.8h.6v.6h-.6zM393.9 125.4h.6v.6h-.6zM390.3 146.5h.6v.6h-.6zM390.9 136.1h.6v.6h-.6zM394.7 139.0h.6v.6h-.6zM390.2 141.0h.6v.6h-.6zM397.6 134.5h.6v.6h-.6zM391.5 139.1h.6v.6h-.6zM395.2 140.2h.6v.6h-.6zM390.4 136.4h.6v.6h-.6zM389.2 133.5h.6v.6h-.6zM396.5 139.2h.6v.6h-.6zM392.1 140.0h.6v.6h-.6zM396.0 129.5h.6v.6h-.6zM386.1 140.5h.6v.6h-.6zM396.5 127.1h.6v.6h-.6zM400.1 136.1h.6v.6h-.6zM380.3 146.0h.6v.6h-.6zM394.8 137.7h.6v.6h-.6zM393.1 141.7h.6v.6h-.6zM387.5 139.6h.6v.6h-.6zM392.3 130.5h.6v.6h-.6zM386.0 133.8h.6v.6h-.6zM405.1 133.8h.6v.6h-.6zM387.5 139.1h.6v.6h-.6zM400.4 139.4h.6v.6h-.6zM395.0 134.6h.6v.6h-.6zM388.1 141.8h.6v.6h-.6zM387.5 141.6h.6v.6h-.6zM397.3 135.9h.6v.6h-.6zM389.1 133.9h.6v.6h-.6zM390.5 129.6h.6v.6h-.6zM392.0 138.3h.6v.6h-.6zM398.8 124.4h.6v.6h-.6zM389.2 138.8h.6v.6h-.6zM394.2 143.5h.6v.6h-.6zM388.0 124.8h.6v.6h-.6zM394.1 127.5h.6v.6h-.6zM389.3 124.6h.6v.6h-.6zM395.6 135.3h.6v.6h-.6zM392.8 139.0h.6v.6h-.6zM399.7 141.1h.6v.6h-.6zM397.9 136.8h.6v.6h-.6zM397.7 127.1h.6v.6h-.6zM393.0 129.7h.6v.6h-.6zM396.5 136.3h.6v.6h-.6zM392.9 137.8h.6v.6h-.6zM399.7 126.4h.6v.6h-.6zM401.5 129.4h.6v.6h-.6zM390.0 142.1h.6v.6h-.6zM384.5 147.3h.6v.6h-.6zM395.9 137.9h.6v.6h-.6zM393.1 127.1h.6v.6h-.6zM394.4 137.1h.6v.6h-.6zM391.8 140.5h.6v.6h-.6zM391.6 135.4h.6v.6h-.6zM397.8 131.0h.6v.6h-.6zM392.9 130.1h.6v.6h-.6zM394.8 134.2h.6v.6h-.6zM396.3 133.6h.6v.6h-.6zM387.8 132.6h.6v.6h-.6zM393.8 127.9h.6v.6h-.6zM393.3 133.9h.6v.6h-.6zM388.8 132.0h.6v.6h-.6zM392.2 133.3h.6v.6h-.6zM393.4 133.3h.6v.6h-.6zM393.4 137.2h.6v.6h-.6zM395.1 136.8h.6v.6h-.6zM393.0 133.8h.6v.6h-.6zM391.7 132.2h.6v.6h-.6zM390.4 127.3h.6v.6h-.6zM394.0 127.9h.6v.6h-.6zM392.7 135.6h.6v.6h-.6zM394.4 139.0h.6v.6h-.6zM384.4 135.7h.6v.6h-.6zM394.8 138.1h.6v.6h-.6zM389.5 133.3h.6v.6h-.6zM394.0 140.0h.6v.6h-.6zM393.1 136.5h.6v.6h-.6zM396.8 132.4h.6v.6h-.6zM394.3 131.1h.6v.6h-.6zM398.8 122.9h.6v.6h-.6zM397.4 139.8h.6v.6h-.6zM401.3 133.3h.6v.6h-.6zM393.5 145.4h.6v.6h-.6zM394.5 132.4h.6v.6h-.6zM393.3 127.2h.6v.6h-.6zM389.0 148.1h.6v.6h-.6zM394.5 134.6h.6v.6h-.6zM386.5 134.7h.6v.6h-.6zM397.1 138.9h.6v.6h-.6zM396.9 135.6h.6v.6h-.6zM382.9 131.5h.6v.6h-.6zM405.2 128.8h.6v.6h-.6zM399.0 157.2h.6v.6h-.6zM388.0 140.1h.6v.6h-.6zM389.9 147.8h.6v.6h-.6zM390.7 130.4h.6v.6h-.6zM387.6 133.7h.6v.6h-.6zM391.5 133.2h.6v.6h-.6zM394.4 131.0h.6v.6h-.6zM401.3 143.3h.6v.6h-.6zM394.9 145.5h.6v.6h-.6zM396.4 129.7h.6v.6h-.6zM391.8 131.9h.6v.6h-.6zM387.6 149.5h.6v.6h-.6zM398.1 125.4h.6v.6h-.6zM391.2 135.9h.6v.6h-.6zM402.2 121.3h.6v.6h-.6zM386.0 142.7h.6v.6h-.6zM391.9 151.9h.6v.6h-.6zM393.3 133.6h.6v.6h-.6zM395.4 126.2h.6v.6h-.6zM385.9 136.6h.6v.6h-.6zM400.0 135.0h.6v.6h-.6zM380.8 133.2h.6v.6h-.6zM392.4 125.5h.6v.6h-.6zM388.1 129.1h.6v.6h-.6zM397.0 129.2h.6v.6h-.6zM389.4 135.5h.6v.6h-.6zM393.2 125.9h.6v.6h-.6zM390.6 136.6h.6v.6h-.6zM395.5 126.6h.6v.6h-.6zM392.6 132.4h.6v.6h-.6zM400.8 132.0h.6v.6h-.6zM395.0 133.0h.6v.6h-.6zM387.8 143.2h.6v.6h-.6zM402.9 142.3h.6v.6h-.6zM391.9 139.7h.6v.6h-.6zM395.6 132.1h.6v.6h-.6zM389.5 129.2h.6v.6h-.6zM391.9 138.1h.6v.6h-.6zM396.6 122.7h.6v.6h-.6zM394.6 133.7h.6v.6h-.6zM387.2 140.7h.6v.6h-.6zM399.2 142.9h.6v.6h-.6zM405.1 124.3h.6v.6h-.6zM402.2 133.5h.6v.6h-.6zM386.2 143.7h.6v.6h-.6zM393.2 135.6h.6v.6h-.6zM398.7 149.7h.6v.6h-.6zM395.9 147.2h.6v.6h-.6zM388.6 138.0h.6v.6h-.6zM381.9 141.9h.6v.6h-.6zM392.6 132.8h.6v.6h-.6zM396.8 131.7h.6v.6h-.6zM398.1 130.6h.6v.6h-.6zM398.9 131.8h.6v.6h-.6zM377.1 147.2h.6v.6h-.6zM398.0 137.7h.6v.6h-.6zM387.8 132.0h.6v.6h-.6zM393.4 130.9h.6v.6h-.6zM397.7 135.3h.6v.6h-.6zM397.8 138.6h.6v.6h-.6zM404.0 133.2h.6v.6h-.6zM391.5 137.5h.6v.6h-.6zM390.0 129.7h.6v.6h-.6zM387.9 139.9h.6v.6h-.6zM390.8 138.6h.6v.6h-.6zM386.8 135.4h.6v.6h-.6zM383.0 136.8h.6v.6h-.6zM384.2 136.8h.6v.6h-.6zM396.5 128.7h.6v.6h-.6zM389.1 135.5h.6v.6h-.6zM395.5 122.9h.6v.6h-.6zM400.6 137.7h.6v.6h-.6zM398.5 137.1h.6v.6h-.6zM379.0 135.5h.6v.6h-.6zM392.9 133.5h.6v.6h-.6zM399.3 131.1h.6v.6h-.6zM397.6 132.4h.6v.6h-.6zM392.1 127.9h.6v.6h-.6zM390.8 124.3h.6v.6h-.6zM384.8 139.2h.6v.6h-.6zM394.6 135.9h.6v.6h-.6zM400.2 130.6h.6v.6h-.6zM391.1 136.1h.6v.6h-.6zM390.0 134.9h.6v.6h-.6zM390.4 143.7h.6v.6h-.6zM391.5 122.3h.6v.6h-.6zM392.0 125.8h.6v.6h-.6zM391.8 135.1h.6v.6h-.6zM390.1 138.2h.6v.6h-.6zM391.6 131.3h.6v.6h-.6zM391.6 130.9h.6v.6h-.6zM394.6 138.7h.6v.6h-.6zM397.9 135.3h.6v.6h-.6zM393.4 128.1h.6v.6h-.6zM385.5 135.1h.6v.6h-.6zM399.8 133.6h.6v.6h-.6zM396.3 130.9h.6v.6h-.6zM391.9 136.8h.6v.6h-.6zM391.4 134.8h.6v.6h-.6zM388.4 142.6h.6v.6h-.6zM389.0 138.0h.6v.6h-.6zM381.2 138.5h.6v.6h-.6zM388.9 129.7h.6v.6h-.6zM398.2 139.0h.6v.6h-.6zM399.9 136.2h.6v.6h-.6zM398.7 129.2h.6v.6h-.6zM397.5 138.6h.6v.6h-.6zM385.4 142.1h.6v.6h-.6zM394.1 141.4h.6v.6h-.6zM395.2 135.9h.6v.6h-.6zM388.1 137.3h.6v.6h-.6zM391.1 124.8h.6v.6h-.6zM386.4 142.0h.6v.6h-.6zM394.9 138.4h.6v.6h-.6zM385.3 137.6h.6v.6h-.6zM403.3 130.3h.6v.6h-.6zM389.6 134.1h.6v.6h-.6zM401.6 127.0h.6v.6h-.6zM398.8 128.0h.6v.6h-.6zM392.2 130.0h.6v.6h-.6zM390.4 131.6h.6v.6h-.6zM396.7 122.6h.6v.6h-.6zM385.3 144.4h.6v.6h-.6zM393.0 138.3h.6v.6h-.6zM391.2 141.4h.6v.6h-.6zM387.6 136.6h.6v.6h-.6zM394.2 135.4h.6v.6h-.6zM396.3 133.6h.6v.6h-.6zM387.6 141.8h.6v.6h-.6zM386.2 136.1h.6v.6h-.6zM396.8 140.5h.6v.6h-.6zM394.3 138.2h.6v.6h-.6zM387.7 142.8h.6v.6h-.6zM393.2 134.3h.6v.6h-.6zM395.9 139.3h.6v.6h-.6zM388.1 146.2h.6v.6h-.6zM402.4 125.4h.6v.6h-.6zM403.3 140.1h.6v.6h-.6zM388.6 144.2h.6v.6h-.6zM392.9 143.5h.6v.6h-.6zM395.2 126.8h.6v.6h-.6zM396.7 137.4h.6v.6h-.6zM381.7 138.1h.6v.6h-.6zM395.3 132.6h.6v.6h-.6zM383.6 139.7h.6v.6h-.6zM397.1 143.8h.6v.6h-.6zM399.9 132.9h.6v.6h-.6zM393.4 143.3h.6v.6h-.6zM391.6 149.2h.6v.6h-.6zM391.4 138.0h.6v.6h-.6zM389.0 135.9h.6v.6h-.6zM395.7 133.9h.6v.6h-.6zM393.1 141.6h.6v.6h-.6zM386.4 136.4h.6v.6h-.6zM397.2 136.6h.6v.6h-.6zM395.2 134.5h.6v.6h-.6zM383.4 133.1h.6v.6h-.6zM399.5 129.9h.6v.6h-.6zM398.6 154.6h.6v.6h-.6zM385.0 141.1h.6v.6h-.6zM393.1 138.4h.6v.6h-.6zM383.5 138.4h.6v.6h-.6zM395.9 130.0h.6v.6h-.6zM388.0 144.0h.6v.6h-.6zM388.8 136.1h.6v.6h-.6zM392.6 138.0h.6v.6h-.6zM395.4 144.7h.6v.6h-.6zM401.0 136.6h.6v.6h-.6zM393.6 129.0h.6v.6h-.6zM388.1 142.6h.6v.6h-.6zM382.8 139.5h.6v.6h-.6zM397.2 136.6h.6v.6h-.6zM386.2 145.3h.6v.6h-.6zM405.9 133.2h.6v.6h-.6zM400.3 138.3h.6v.6h-.6zM397.9 131.0h.6v.6h-.6zM393.7 131.5h.6v.6h-.6zM395.5 137.4h.6v.6h-.6zM398.9 125.6h.6v.6h-.6zM397.4 133.4h.6v.6h-.6zM391.7 135.7h.6v.6h-.6zM399.3 132.3h.6v.6h-.6zM392.5 141.6h.6v.6h-.6zM386.6 138.8h.6v.6h-.6zM389.0 140.0h.6v.6h-.6zM386.7 131.0h.6v.6h-.6zM387.6 135.0h.6v.6h-.6zM380.3 142.1h.6v.6h-.6zM397.9 126.8h.6v.6h-.6zM396.8 143.1h.6v.6h-.6zM384.9 136.9h.6v.6h-.6zM390.6 135.6h.6v.6h-.6zM387.9 129.9h.6v.6h-.6zM391.2 144.9h.6v.6h-.6zM391.9 136.9h.6v.6h-.6zM395.3 139.8h.6v.6h-.6zM390.5 139.9h.6v.6h-.6zM384.1 143.7h.6v.6h-.6zM387.7 132.6h.6v.6h-.6zM396.3 134.7h.6v.6h-.6zM400.3 132.7h.6v.6h-.6zM398.1 121.5h.6v.6h-.6zM391.9 142.4h.6v.6h-.6zM388.7 131.7h.6v.6h-.6zM395.6 137.1h.6v.6h-.6zM386.0 146.1h.6v.6h-.6zM396.2 131.3h.6v.6h-.6zM395.6 140.7h.6v.6h-.6zM387.7 127.5h.6v.6h-.6zM389.9 130.2h.6v.6h-.6zM398.4 127.7h.6v.6h-.6zM392.4 134.9h.6v.6h-.6zM394.8 129.0h.6v.6h-.6zM388.8 131.4h.6v.6h-.6zM394.9 132.6h.6v.6h-.6zM395.3 134.4h.6v.6h-.6zM401.5 127.0h.6v.6h-.6zM396.5 140.3h.6v.6h-.6zM396.6 132.0h.6v.6h-.6zM391.5 151.0h.6v.6h-.6zM393.1 150.4h.6v.6h-.6zM386.4 147.1h.6v.6h-.6zM389.7 140.6h.6v.6h-.6zM391.5 145.1h.6v.6h-.6zM393.5 141.2h.6v.6h-.6zM389.9 142.0h.6v.6h-.6zM395.0 139.7h.6v.6h-.6zM388.8 143.2h.6v.6h-.6zM394.7 143.6h.6v.6h-.6zM388.1 136.7h.6v.6h-.6zM395.6 136.4h.6v.6h-.6zM389.2 142.6h.6v.6h-.6zM395.5 143.5h.6v.6h-.6zM389.9 139.9h.6v.6h-.6zM389.6 134.9h.6v.6h-.6zM395.8 141.8h.6v.6h-.6zM392.0 136.2h.6v.6h-.6zM390.5 143.9h.6v.6h-.6zM393.1 142.1h.6v.6h-.6zM384.5 137.9h.6v.6h-.6zM388.2 144.7h.6v.6h-.6zM396.1 139.2h.6v.6h-.6zM391.7 143.6h.6v.6h-.6zM391.6 140.8h.6v.6h-.6zM387.7 141.1h.6v.6h-.6zM393.0 144.5h.6v.6h-.6zM389.9 143.2h.6v.6h-.6zM393.5 136.9h.6v.6h-.6zM391.3 140.8h.6v.6h-.6zM392.4 137.8h.6v.6h-.6zM383.1 140.9h.6v.6h-.6zM383.6 140.1h.6v.6h-.6zM391.4 139.9h.6v.6h-.6zM393.0 139.1h.6v.6h-.6zM386.9 140.1h.6v.6h-.6zM390.1 140.2h.6v.6h-.6zM385.9 140.4h.6v.6h-.6zM389.7 146.2h.6v.6h-.6zM387.2 140.7h.6v.6h-.6zM391.8 142.7h.6v.6h-.6zM388.5 143.7h.6v.6h-.6zM395.9 139.1h.6v.6h-.6zM392.4 142.9h.6v.6h-.6zM391.8 140.6h.6v.6h-.6zM396.8 138.7h.6v.6h-.6zM392.5 139.5h.6v.6h-.6zM393.3 138.1h.6v.6h-.6zM388.4 141.9h.6v.6h-.6zM388.2 144.9h.6v.6h-.6zM389.4 148.7h.6v.6h-.6zM392.4 134.9h.6v.6h-.6zM388.4 136.7h.6v.6h-.6zM391.0 142.6h.6v.6h-.6zM395.1 143.4h.6v.6h-.6zM393.8 139.4h.6v.6h-.6zM388.3 140.4h.6v.6h-.6zM386.7 135.7h.6v.6h-.6zM390.2 137.6h.6v.6h-.6zM394.2 139.2h.6v.6h-.6zM397.1 139.3h.6v.6h-.6zM390.1 136.6h.6v.6h-.6zM388.2 142.8h.6v.6h-.6zM388.2 144.9h.6v.6h-.6zM392.7 139.5h.6v.6h-.6zM388.1 141.2h.6v.6h-.6zM390.3 142.9h.6v.6h-.6zM393.5 138.5h.6v.6h-.6zM391.7 139.3h.6v.6h-.6zM391.0 137.1h.6v.6h-.6zM394.4 139.9h.6v.6h-.6zM390.5 142.1h.6v.6h-.6zM392.6 136.0h.6v.6h-.6zM395.2 141.4h.6v.6h-.6zM389.9 138.4h.6v.6h-.6zM393.5 142.9h.6v.6h-.6zM387.6 139.2h.6v.6h-.6zM390.9 140.9h.6v.6h-.6zM387.6 141.6h.6v.6h-.6zM396.2 137.8h.6v.6h-.6zM394.0 138.9h.6v.6h-.6zM390.4 136.6h.6v.6h-.6zM393.6 139.1h.6v.6h-.6zM389.7 137.7h.6v.6h-.6zM388.6 142.2h.6v.6h-.6zM393.7 142.3h.6v.6h-.6zM383.1 138.2h.6v.6h-.6zM394.3 146.6h.6v.6h-.6zM392.4 136.2h.6v.6h-.6zM387.0 141.5h.6v.6h-.6zM385.9 138.3h.6v.6h-.6zM391.4 140.7h.6v.6h-.6zM395.9 137.6h.6v.6h-.6zM393.2 139.2h.6v.6h-.6zM388.5 146.4h.6v.6h-.6zM393.3 138.6h.6v.6h-.6zM388.5 142.1h.6v.6h-.6zM392.2 142.5h.6v.6h-.6zM390.2 142.8h.6v.6h-.6zM386.2 138.0h.6v.6h-.6zM388.2 140.5h.6v.6h-.6zM391.5 144.3h.6v.6h-.6zM392.8 143.7h.6v.6h-.6zM394.0 145.0h.6v.6h-.6zM391.0 139.7h.6v.6h-.6zM392.7 143.2h.6v.6h-.6zM393.0 147.3h.6v.6h-.6zM390.3 141.1h.6v.6h-.6zM387.9 144.5h.6v.6h-.6zM393.7 139.6h.6v.6h-.6zM392.9 140.1h.6v.6h-.6zM391.1 145.7h.6v.6h-.6zM388.1 139.3h.6v.6h-.6zM393.9 143.7h.6v.6h-.6zM391.9 147.3h.6v.6h-.6zM396.0 140.2h.6v.6h-.6zM389.8 140.0h.6v.6h-.6zM394.1 142.7h.6v.6h-.6zM387.1 144.2h.6v.6h-.6zM394.6 139.7h.6v.6h-.6zM388.7 133.0h.6v.6h-.6zM391.2 141.9h.6v.6h-.6zM395.2 144.7h.6v.6h-.6zM385.9 139.3h.6v.6h-.6zM392.8 140.7h.6v.6h-.6zM387.6 139.0h.6v.6h-.6zM387.0 141.8h.6v.6h-.6zM385.2 139.4h.6v.6h-.6zM384.5 140.5h.6v.6h-.6zM386.5 146.2h.6v.6h-.6zM386.3 138.8h.6v.6h-.6zM385.6 140.9h.6v.6h-.6zM385.8 142.4h.6v.6h-.6zM391.2 140.6h.6v.6h-.6zM388.0 141.5h.6v.6h-.6zM392.1 141.5h.6v.6h-.6zM390.9 140.2h.6v.6h-.6zM390.3 140.1h.6v.6h-.6zM392.9 143.8h.6v.6h-.6zM390.0 136.4h.6v.6h-.6zM387.3 142.6h.6v.6h-.6zM379.1 134.2h.6v.6h-.6zM376.0 137.0h.6v.6h-.6zM384.8 135.3h.6v.6h-.6zM373.8 134.8h.6v.6h-.6zM385.2 139.6h.6v.6h-.6zM377.7 132.5h.6v.6h-.6zM387.4 136.2h.6v.6h-.6zM372.2 125.9h.6v.6h-.6zM383.0 134.6h.6v.6h-.6zM376.7 132.2h.6v.6h-.6zM380.9 131.4h.6v.6h-.6zM378.8 134.6h.6v.6h-.6zM381.2 134.5h.6v.6h-.6zM372.8 136.1h.6v.6h-.6zM380.7 137.8h.6v.6h-.6zM379.0 133.8h.6v.6h-.6zM368.3 134.9h.6v.6h-.6zM379.2 140.6h.6v.6h-.6zM375.8 134.8h.6v.6h-.6zM368.6 135.3h.6v.6h-.6zM383.5 138.4h.6v.6h-.6zM378.7 136.5h.6v.6h-.6zM376.6 141.7h.6v.6h-.6zM375.8 135.9h.6v.6h-.6zM381.1 134.7h.6v.6h-.6zM372.3 131.3h.6v.6h-.6zM383.5 134.9h.6v.6h-.6zM377.7 140.3h.6v.6h-.6zM378.7 135.3h.6v.6h-.6zM385.1 140.5h.6v.6h-.6zM372.4 132.4h.6v.6h-.6zM381.1 132.2h.6v.6h-.6zM376.6 136.9h.6v.6h-.6zM376.9 135.3h.6v.6h-.6zM378.0 136.9h.6v.6h-.6zM376.5 139.1h.6v.6h-.6zM378.7 135.3h.6v.6h-.6zM372.7 130.1h.6v.6h-.6zM386.8 132.9h.6v.6h-.6zM381.7 133.4h.6v.6h-.6zM381.4 132.0h.6v.6h-.6zM378.6 138.3h.6v.6h-.6zM385.7 132.7h.6v.6h-.6zM378.7 132.2h.6v.6h-.6zM379.4 132.7h.6v.6h-.6zM373.1 137.0h.6v.6h-.6zM385.3 134.6h.6v.6h-.6zM376.0 133.8h.6v.6h-.6zM384.1 138.3h.6v.6h-.6zM379.0 134.2h.6v.6h-.6zM378.1 137.5h.6v.6h-.6zM385.7 131.2h.6v.6h-.6zM379.2 137.9h.6v.6h-.6zM378.8 136.4h.6v.6h-.6zM380.1 137.8h.6v.6h-.6zM382.3 139.8h.6v.6h-.6zM386.6 137.2h.6v.6h-.6zM379.8 132.4h.6v.6h-.6zM376.6 138.8h.6v.6h-.6zM382.0 134.5h.6v.6h-.6zM380.3 132.1h.6v.6h-.6zM380.9 129.4h.6v.6h-.6zM378.4 136.6h.6v.6h-.6zM376.6 139.4h.6v.6h-.6zM378.1 133.3h.6v.6h-.6zM379.9 138.4h.6v.6h-.6zM385.2 135.4h.6v.6h-.6zM381.2 133.9h.6v.6h-.6zM386.0 137.3h.6v.6h-.6zM378.0 128.3h.6v.6h-.6zM369.8 136.1h.6v.6h-.6zM382.0 132.6h.6v.6h-.6zM379.2 135.9h.6v.6h-.6zM374.4 134.2h.6v.6h-.6zM375.2 133.4h.6v.6h-.6zM387.4 131.4h.6v.6h-.6zM379.7 135.9h.6v.6h-.6zM387.5 140.7h.6v.6h-.6zM380.0 144.1h.6v.6h-.6zM379.7 134.7h.6v.6h-.6zM393.0 125.3h.6v.6h-.6zM394.0 128.7h.6v.6h-.6zM396.2 125.6h.6v.6h-.6zM406.6 128.6h.6v.6h-.6zM391.6 128.2h.6v.6h-.6zM400.2 128.1h.6v.6h-.6zM397.7 115.5h.6v.6h-.6zM396.2 137.4h.6v.6h-.6zM395.8 121.2h.6v.6h-.6zM398.4 127.4h.6v.6h-.6zM396.5 127.3h.6v.6h-.6zM389.0 119.0h.6v.6h-.6zM388.3 125.5h.6v.6h-.6zM405.4 115.6h.6v.6h-.6zM389.7 124.1h.6v.6h-.6zM391.7 116.0h.6v.6h-.6zM391.6 119.0h.6v.6h-.6zM388.7 121.6h.6v.6h-.6zM397.1 123.0h.6v.6h-.6zM400.1 123.0h.6v.6h-.6zM391.0 118.5h.6v.6h-.6zM401.8 127.5h.6v.6h-.6zM393.0 120.0h.6v.6h-.6zM389.3 124.1h.6v.6h-.6zM391.0 127.2h.6v.6h-.6zM400.3 118.5h.6v.6h-.6zM388.5 116.5h.6v.6h-.6zM392.3 118.6h.6v.6h-.6zM391.2 121.6h.6v.6h-.6zM396.4 116.1h.6v.6h-.6zM394.6 124.9h.6v.6h-.6zM392.9 127.4h.6v.6h-.6zM399.9 118.7h.6v.6h-.6zM392.8 117.4h.6v.6h-.6zM391.0 124.0h.6v.6h-.6zM400.5 126.0h.6v.6h-.6zM396.4 122.3h.6v.6h-.6zM392.3 124.6h.6v.6h-.6zM396.4 128.4h.6v.6h-.6zM396.2 132.2h.6v.6h-.6zM396.1 135.0h.6v.6h-.6zM408.1 128.5h.6v.6h-.6zM400.4 116.4h.6v.6h-.6zM396.0 125.1h.6v.6h-.6zM396.7 119.5h.6v.6h-.6zM400.6 133.2h.6v.6h-.6zM395.1 127.5h.6v.6h-.6zM397.7 118.0h.6v.6h-.6zM398.0 128.2h.6v.6h-.6zM390.6 121.4h.6v.6h-.6zM397.5 122.6h.6v.6h-.6zM399.6 123.6h.6v.6h-.6zM399.6 131.0h.6v.6h-.6zM391.2 122.2h.6v.6h-.6zM389.5 122.8h.6v.6h-.6zM392.2 122.6h.6v.6h-.6zM394.5 127.1h.6v.6h-.6zM399.2 127.4h.6v.6h-.6zM402.9 129.4h.6v.6h-.6zM401.9 126.9h.6v.6h-.6zM387.3 124.4h.6v.6h-.6zM393.7 120.8h.6v.6h-.6zM397.4 131.1h.6v.6h-.6zM398.4 127.2h.6v.6h-.6zM402.4 119.0h.6v.6h-.6zM405.6 121.4h.6v.6h-.6zM394.1 124.3h.6v.6h-.6zM394.2 116.1h.6v.6h-.6zM400.1 127.4h.6v.6h-.6zM397.6 122.2h.6v.6h-.6zM377.1 112.8h.5v.5h-.5zM411.0 101.2h.5v.5h-.5zM369.1 114.1h.5v.5h-.5zM387.1 123.7h.5v.5h-.5zM415.1 101.5h.5v.5h-.5zM377.9 124.3h.5v.5h-.5zM364.3 112.8h.5v.5h-.5zM416.6 146.3h.5v.5h-.5zM393.2 145.5h.5v.5h-.5zM375.3 138.1h.5v.5h-.5zM404.0 144.7h.5v.5h-.5zM372.2 126.7h.5v.5h-.5zM415.4 136.0h.5v.5h-.5zM395.1 120.6h.5v.5h-.5zM411.6 141.3h.5v.5h-.5zM370.0 139.3h.5v.5h-.5zM378.6 138.4h.5v.5h-.5zM374.8 128.3h.5v.5h-.5zM416.1 107.8h.5v.5h-.5zM391.2 107.6h.5v.5h-.5zM365.5 99.8h.5v.5h-.5zM377.2 108.6h.5v.5h-.5zM405.6 104.5h.5v.5h-.5zM384.0 100.8h.5v.5h-.5zM362.9 131.4h.5v.5h-.5zM404.3 128.8h.5v.5h-.5zM394.7 99.5h.5v.5h-.5zM384.7 110.6h.5v.5h-.5zM402.7 132.6h.5v.5h-.5zM384.2 118.0h.5v.5h-.5zM361.7 121.6h.5v.5h-.5zM362.6 143.3h.5v.5h-.5zM364.3 136.6h.5v.5h-.5zM394.6 127.6h.5v.5h-.5zM373.1 120.5h.5v.5h-.5zM383.1 114.7h.5v.5h-.5zM400.6 109.8h.5v.5h-.5zM369.2 129.7h.5v.5h-.5zM366.3 144.5h.5v.5h-.5zM393.9 104.1h.5v.5h-.5zM412.7 125.8h.5v.5h-.5zM367.6 123.2h.5v.5h-.5zM408.3 113.0h.5v.5h-.5zM396.9 114.2h.5v.5h-.5zM364.3 121.8h.5v.5h-.5zM383.0 119.0h.5v.5h-.5zM411.3 142.8h.5v.5h-.5zM390.2 134.1h.5v.5h-.5zM408.1 117.0h.5v.5h-.5zM403.7 103.7h.5v.5h-.5zM373.9 113.1h.5v.5h-.5zM394.9 102.8h.5v.5h-.5zM416.1 126.6h.5v.5h-.5zM407.5 117.9h.5v.5h-.5zM411.3 131.4h.5v.5h-.5zM403.7 120.0h.5v.5h-.5zM382.8 135.5h.5v.5h-.5zM368.8 113.5h.5v.5h-.5zM384.0 122.7h.5v.5h-.5zM364.5 113.2h.5v.5h-.5zM375.2 138.6h.5v.5h-.5zM407.1 140.2h.5v.5h-.5zM409.5 144.0h.5v.5h-.5zM413.3 121.9h.5v.5h-.5zM369.7 114.7h.5v.5h-.5zM384.6 114.0h.5v.5h-.5zM361.8 120.0h.5v.5h-.5zM417.7 102.9h.5v.5h-.5zM382.7 107.8h.5v.5h-.5zM377.0 138.7h.5v.5h-.5zM392.2 134.4h.5v.5h-.5zM368.0 121.3h.5v.5h-.5zM391.4 107.5h.5v.5h-.5zM382.4 120.7h.5v.5h-.5zM406.1 146.2h.5v.5h-.5zM401.8 144.2h.5v.5h-.5zM390.6 114.2h.5v.5h-.5zM362.0 108.4h.5v.5h-.5zM409.7 137.6h.5v.5h-.5zM404.1 100.6h.5v.5h-.5zM394.3 104.2h.5v.5h-.5zM371.5 127.7h.5v.5h-.5zM393.3 139.9h.5v.5h-.5zM389.5 142.1h.5v.5h-.5zM411.0 135.0h.5v.5h-.5zM366.8 123.8h.5v.5h-.5zM362.7 114.9h.5v.5h-.5zM405.7 116.2h.5v.5h-.5zM412.7 135.8h.5v.5h-.5zM393.6 113.1h.5v.5h-.5z" fill="#4a4a4a" opacity="0.55"/>
</g>
<line x1="385.3" y1="99.5" x2="385.3" y2="147.3" stroke="#777" stroke-width="0.6"/>
<line x1="360.4" y1="131.1" x2="418.2" y2="131.1" stroke="#777" stroke-width="0.6"/>
<text x="355.0" y="104.8" font-size="3.4" fill="#666">10</text>
<text x="355.0" y="116.8" font-size="3.4" fill="#666">10</text>
<text x="355.0" y="130.1" font-size="3.4" fill="#666">10</text>
<text x="355.0" y="141.39999999999998" font-size="3.4" fill="#666">10</text>
<text x="366.792" y="151.9" font-size="3.4" fill="#666">10</text>
<text x="381.82" y="151.9" font-size="3.4" fill="#666">10</text>
<text x="396.27" y="151.9" font-size="3.4" fill="#666">10</text>
<text x="409.564" y="151.9" font-size="3.4" fill="#666">10</text>
<text x="0.3" y="9.3" font-size="13.2" font-weight="bold" fill="#000" stroke="#000" stroke-width="0.55">A</text>
<text x="137.6" y="9.3" font-size="13.2" font-weight="bold" fill="#000" stroke="#000" stroke-width="0.55">B</text>
<text x="277.0" y="9.3" font-size="13.2" font-weight="bold" fill="#000" stroke="#000" stroke-width="0.55">C</text>
<text x="0.4" y="197.4" font-size="13.2" font-weight="bold" fill="#000" stroke="#000" stroke-width="0.55">D</text>
<text x="0.6" y="314.4" font-size="13.2" font-weight="bold" fill="#000" stroke="#000" stroke-width="0.55">E</text>
<text transform="translate(14.1,58.3) rotate(-90)" font-size="8.6" font-weight="bold" text-anchor="middle" fill="#000" stroke="#000" stroke-width="0.25">Tumor</text>
<text transform="translate(22.0,57.4) rotate(-90)" font-size="8.3" font-weight="bold" text-anchor="middle" fill="#000" stroke="#000" stroke-width="0.25">weight (gms)</text>
<text x="40.2" y="31.800000000000004" font-size="7.5" font-weight="bold" text-anchor="end" fill="#000" stroke="#000" stroke-width="0.25" >0.8</text>
<text x="40.2" y="46.300000000000004" font-size="7.5" font-weight="bold" text-anchor="end" fill="#000" stroke="#000" stroke-width="0.25" >0.6</text>
<text x="40.2" y="60.800000000000004" font-size="7.5" font-weight="bold" text-anchor="end" fill="#000" stroke="#000" stroke-width="0.25" >0.4</text>
<text x="40.2" y="75.3" font-size="7.5" font-weight="bold" text-anchor="end" fill="#000" stroke="#000" stroke-width="0.25" >0.2</text>
<line x1="40.6" y1="79.95" x2="42.2" y2="79.95" stroke="#555" stroke-width="0.8"/>
<line x1="40.6" y1="72.7" x2="42.2" y2="72.7" stroke="#555" stroke-width="0.8"/>
<line x1="40.6" y1="65.45" x2="42.2" y2="65.45" stroke="#555" stroke-width="0.8"/>
<line x1="40.6" y1="58.2" x2="42.2" y2="58.2" stroke="#555" stroke-width="0.8"/>
<line x1="40.6" y1="50.95" x2="42.2" y2="50.95" stroke="#555" stroke-width="0.8"/>
<line x1="40.6" y1="43.7" x2="42.2" y2="43.7" stroke="#555" stroke-width="0.8"/>
<line x1="40.6" y1="36.45" x2="42.2" y2="36.45" stroke="#555" stroke-width="0.8"/>
<line x1="40.6" y1="29.200000000000003" x2="42.2" y2="29.200000000000003" stroke="#555" stroke-width="0.8"/>
<rect x="49.6" y="72.4" width="26.6" height="14.8" fill="#a3a3a3" stroke="#3a3a3a" stroke-width="1" />
<rect x="89.8" y="44.4" width="27.3" height="42.8" fill="#a3a3a3" stroke="#3a3a3a" stroke-width="1" />
<line x1="42.2" y1="28.7" x2="42.2" y2="87.6" stroke="#555" stroke-width="1.1"/>
<line x1="41" y1="87.3" x2="124.4" y2="87.3" stroke="#444" stroke-width="1.1"/>
<line x1="62.6" y1="64.5" x2="62.6" y2="79.3" stroke="#333" stroke-width="0.9"/>
<line x1="103.4" y1="33.6" x2="103.4" y2="54.0" stroke="#333" stroke-width="0.9"/>
<line x1="61.2" y1="31.4" x2="103.9" y2="31.4" stroke="#222" stroke-width="1.2"/>
<text x="82.3" y="32.4" font-size="7.5" font-weight="bold" text-anchor="middle" fill="#000" stroke="#000" stroke-width="0.25" >**</text>
<text x="60.5" y="98.3" font-size="9.5" font-weight="bold" text-anchor="middle" fill="#000" stroke="#000" stroke-width="0.25" >HPAC</text>
<text x="60.5" y="109.8" font-size="9.5" font-weight="bold" text-anchor="middle" fill="#000" stroke="#000" stroke-width="0.25" >-VEC</text>
<text x="104.4" y="98.3" font-size="9.5" font-weight="bold" text-anchor="middle" fill="#000" stroke="#000" stroke-width="0.25" >HPAC</text>
<text x="104.4" y="109.8" font-size="9.5" font-weight="bold" text-anchor="middle" fill="#000" stroke="#000" stroke-width="0.25" >-OSM</text>
<text x="176.5" y="23.6" font-size="9.4" font-weight="bold" text-anchor="middle" fill="#000" stroke="#000" stroke-width="0.25" >HPAC-VEC</text>
<text x="233.5" y="23.6" font-size="9.4" font-weight="bold" text-anchor="middle" fill="#000" stroke="#000" stroke-width="0.25" >HPAC-OSM</text>
<text transform="translate(147.9,51.0) rotate(-90)" font-size="10" font-weight="bold" text-anchor="middle" fill="#000" stroke="#000" stroke-width="0.25">Day 0</text>
<text transform="translate(147.9,97.7) rotate(-90)" font-size="10" font-weight="bold" text-anchor="middle" fill="#000" stroke="#000" stroke-width="0.25">Day 14</text>
<text x="321.4" y="82.1" font-size="9.8" font-weight="bold" text-anchor="middle" fill="#000" stroke="#000" stroke-width="0.25" >HPAC GFP</text>
<text x="321.4" y="93.7" font-size="9.8" font-weight="bold" text-anchor="middle" fill="#000" stroke="#000" stroke-width="0.25" >&amp; FB-VEC</text>
<text x="391.9" y="82.1" font-size="9.8" font-weight="bold" text-anchor="middle" fill="#000" stroke="#000" stroke-width="0.25" >HPAC GFP</text>
<text x="391.9" y="93.7" font-size="9.8" font-weight="bold" text-anchor="middle" fill="#000" stroke="#000" stroke-width="0.25" >&amp; FB-OSM</text>
<line x1="285.2" y1="96" x2="285.2" y2="162.5" stroke="#000" stroke-width="2"/>
<polygon points="281.4,97.6 285.2,90.8 289,97.6" fill="#000"/>
<line x1="284.2" y1="161.7" x2="424" y2="161.7" stroke="#000" stroke-width="2"/>
<polygon points="423,158.2 429.8,161.9 423,165.6" fill="#000"/>
<text transform="translate(279.9,150.5) rotate(-90)" font-size="9.6" font-weight="bold" text-anchor="middle" fill="#000" stroke="#000" stroke-width="0.25">CD24</text>
<text x="283.6" y="173.7" font-size="9.6" font-weight="bold" text-anchor="start" fill="#000" stroke="#000" stroke-width="0.25" >CD44</text>
<text x="352.3" y="160.0" font-size="8.1" font-weight="bold" text-anchor="end" fill="#000" stroke="#000" stroke-width="0.25" >28.0</text>
<text x="419.7" y="159.7" font-size="8.1" font-weight="bold" text-anchor="end" fill="#000" stroke="#000" stroke-width="0.25" >88.5</text>
<text x="62.9" y="200.9" font-size="9.8" font-weight="bold" text-anchor="middle" fill="#000" stroke="#000" stroke-width="0.25" >HPAC GFP</text>
<text x="62.9" y="212.8" font-size="9.8" font-weight="bold" text-anchor="middle" fill="#000" stroke="#000" stroke-width="0.25" >&amp; FB-VEC</text>
<text x="179.9" y="200.9" font-size="9.8" font-weight="bold" text-anchor="middle" fill="#000" stroke="#000" stroke-width="0.25" >HPAC GFP</text>
<text x="179.9" y="212.8" font-size="9.8" font-weight="bold" text-anchor="middle" fill="#000" stroke="#000" stroke-width="0.25" >&amp; FB-OSM</text>
<text transform="translate(252.4,228.0) rotate(-90)" font-size="8.3" font-weight="bold" text-anchor="middle" fill="#000" stroke="#000" stroke-width="0.25">Tumor</text>
<text transform="translate(260.8,228.2) rotate(-90)" font-size="7.6" font-weight="bold" text-anchor="middle" fill="#000" stroke="#000" stroke-width="0.25">weight (gms)</text>
<text x="276.8" y="198.75" font-size="7.6" font-weight="bold" text-anchor="end" fill="#000" stroke="#000" stroke-width="0.25" >3.5</text>
<text x="276.8" y="207.8" font-size="7.6" font-weight="bold" text-anchor="end" fill="#000" stroke="#000" stroke-width="0.25" >3.0</text>
<text x="276.8" y="216.85000000000002" font-size="7.6" font-weight="bold" text-anchor="end" fill="#000" stroke="#000" stroke-width="0.25" >2.5</text>
<text x="276.8" y="225.90000000000003" font-size="7.6" font-weight="bold" text-anchor="end" fill="#000" stroke="#000" stroke-width="0.25" >2.0</text>
<text x="276.8" y="234.95000000000002" font-size="7.6" font-weight="bold" text-anchor="end" fill="#000" stroke="#000" stroke-width="0.25" >1.5</text>
<text x="276.8" y="244.00000000000003" font-size="7.6" font-weight="bold" text-anchor="end" fill="#000" stroke="#000" stroke-width="0.25" >1.0</text>
<text x="276.8" y="253.05" font-size="7.6" font-weight="bold" text-anchor="end" fill="#000" stroke="#000" stroke-width="0.25" >0.5</text>
<rect x="284.8" y="233.53600000000003" width="35" height="25.46399999999997" fill="#9a9a9a" />
<rect x="329" y="213.62600000000003" width="34.6" height="45.37399999999997" fill="#000" />
<line x1="301.9" y1="229.8" x2="301.9" y2="238.3" stroke="#333" stroke-width="1.1"/>
<line x1="346" y1="205.6" x2="346" y2="214" stroke="#444" stroke-width="1.2"/>
<line x1="279.8" y1="196" x2="279.8" y2="259.8" stroke="#000" stroke-width="1.4"/>
<line x1="277.9" y1="250.55" x2="279.8" y2="250.55" stroke="#000" stroke-width="0.9"/>
<line x1="277.9" y1="241.50000000000003" x2="279.8" y2="241.50000000000003" stroke="#000" stroke-width="0.9"/>
<line x1="277.9" y1="232.45000000000002" x2="279.8" y2="232.45000000000002" stroke="#000" stroke-width="0.9"/>
<line x1="277.9" y1="223.40000000000003" x2="279.8" y2="223.40000000000003" stroke="#000" stroke-width="0.9"/>
<line x1="277.9" y1="214.35000000000002" x2="279.8" y2="214.35000000000002" stroke="#000" stroke-width="0.9"/>
<line x1="277.9" y1="205.3" x2="279.8" y2="205.3" stroke="#000" stroke-width="0.9"/>
<line x1="277.9" y1="196.25" x2="279.8" y2="196.25" stroke="#000" stroke-width="0.9"/>
<line x1="279" y1="259.2" x2="373.4" y2="259.2" stroke="#000" stroke-width="1.4"/>
<line x1="300.5" y1="200" x2="345.5" y2="200" stroke="#111" stroke-width="1.1"/>
<text x="323" y="199.5" font-size="7.2" font-weight="bold" text-anchor="middle" fill="#000" stroke="#000" stroke-width="0.25" >**</text>
<text x="297.3" y="272.6" font-size="9.8" font-weight="bold" text-anchor="middle" fill="#000" stroke="#000" stroke-width="0.25" >HPAC GFP</text>
<text x="297.3" y="284.0" font-size="9.8" font-weight="bold" text-anchor="middle" fill="#000" stroke="#000" stroke-width="0.25" >&amp; FB-VEC</text>
<text x="353.9" y="272.6" font-size="9.8" font-weight="bold" text-anchor="middle" fill="#000" stroke="#000" stroke-width="0.25" >HPAC GFP</text>
<text x="353.9" y="284.0" font-size="9.8" font-weight="bold" text-anchor="middle" fill="#000" stroke="#000" stroke-width="0.25" >&amp; FB-OSM</text>
<text x="47.5" y="314.8" font-size="9.8" font-weight="bold" text-anchor="middle" fill="#000" stroke="#000" stroke-width="0.25" >HPAC GFP</text>
<text x="47.5" y="326.5" font-size="9.8" font-weight="bold" text-anchor="middle" fill="#000" stroke="#000" stroke-width="0.25" >&amp; FB-VEC</text>
<text x="131.3" y="314.8" font-size="9.8" font-weight="bold" text-anchor="middle" fill="#000" stroke="#000" stroke-width="0.25" >HPAC GFP</text>
<text x="131.3" y="326.5" font-size="9.8" font-weight="bold" text-anchor="middle" fill="#000" stroke="#000" stroke-width="0.25" >&amp; FB-OSM</text>
<line x1="182.9" y1="321.5" x2="315.1" y2="321.5" stroke="#7c7c7c" stroke-width="1"/>
<line x1="182.9" y1="351.2" x2="315.1" y2="351.2" stroke="#7c7c7c" stroke-width="1"/>
<line x1="182.9" y1="364.6" x2="315.1" y2="364.6" stroke="#7c7c7c" stroke-width="1"/>
<line x1="182.9" y1="378.0" x2="315.1" y2="378.0" stroke="#7c7c7c" stroke-width="1"/>
<line x1="182.9" y1="390.8" x2="315.1" y2="390.8" stroke="#7c7c7c" stroke-width="1"/>
<line x1="182.9" y1="404.0" x2="315.1" y2="404.0" stroke="#7c7c7c" stroke-width="1"/>
<line x1="182.9" y1="420.7" x2="315.1" y2="420.7" stroke="#7c7c7c" stroke-width="1"/>
<line x1="183.4" y1="321.5" x2="183.4" y2="420.7" stroke="#7c7c7c" stroke-width="1"/>
<line x1="228.0" y1="321.5" x2="228.0" y2="420.7" stroke="#7c7c7c" stroke-width="1"/>
<line x1="271.8" y1="321.5" x2="271.8" y2="420.7" stroke="#7c7c7c" stroke-width="1"/>
<line x1="314.6" y1="321.5" x2="314.6" y2="420.7" stroke="#7c7c7c" stroke-width="1"/>
<text x="205.7" y="335.3" font-size="7.9" font-weight="bold" text-anchor="middle" fill="#000" stroke="#000" stroke-width="0.25" >Site of</text>
<text x="205.7" y="343.9" font-size="7.9" font-weight="bold" text-anchor="middle" fill="#000" stroke="#000" stroke-width="0.25" >metastasis</text>
<text transform="translate(249.9,329.1) scale(1,0.87)" font-size="7.9" font-weight="bold" text-anchor="middle" stroke="#000" stroke-width="0.1">HPAC GFP</text>
<text transform="translate(293.2,329.1) scale(1,0.87)" font-size="7.9" font-weight="bold" text-anchor="middle" stroke="#000" stroke-width="0.1">HPAC GFP</text>
<text transform="translate(249.9,338.6) scale(1,0.87)" font-size="7.9" font-weight="bold" text-anchor="middle" stroke="#000" stroke-width="0.1">&amp; FB-VEC</text>
<text transform="translate(293.2,338.6) scale(1,0.87)" font-size="7.9" font-weight="bold" text-anchor="middle" stroke="#000" stroke-width="0.1">&amp; FB-OSM</text>
<text transform="translate(249.9,347.8) scale(1,0.9)" font-size="8.2" font-weight="bold" text-anchor="middle" stroke="#000" stroke-width="0.1">(<tspan font-style="italic">n</tspan>=4)</text>
<text transform="translate(293.2,347.8) scale(1,0.9)" font-size="8.2" font-weight="bold" text-anchor="middle" stroke="#000" stroke-width="0.1">(<tspan font-style="italic">n</tspan>=5)</text>
<text x="205.7" y="360.6" font-size="7.9" font-weight="bold" text-anchor="middle" fill="#000" stroke="#000" stroke-width="0.25" >Body Wall</text>
<text x="249.9" y="360.6" font-size="7.9" font-weight="bold" text-anchor="middle" fill="#000" stroke="#000" stroke-width="0.25" >75%</text>
<text x="293.2" y="360.6" font-size="7.9" font-weight="bold" text-anchor="middle" fill="#000" stroke="#000" stroke-width="0.25" >0%</text>
<text x="205.7" y="374.6" font-size="7.9" font-weight="bold" text-anchor="middle" fill="#000" stroke="#000" stroke-width="0.25" >IP Nodules</text>
<text x="249.9" y="374.6" font-size="7.9" font-weight="bold" text-anchor="middle" fill="#000" stroke="#000" stroke-width="0.25" >50%</text>
<text x="293.2" y="374.6" font-size="7.9" font-weight="bold" text-anchor="middle" fill="#000" stroke="#000" stroke-width="0.25" >100%</text>
<text x="205.7" y="387.0" font-size="7.9" font-weight="bold" text-anchor="middle" fill="#000" stroke="#000" stroke-width="0.25" >Spleen</text>
<text x="249.9" y="387.0" font-size="7.9" font-weight="bold" text-anchor="middle" fill="#000" stroke="#000" stroke-width="0.25" >75%</text>
<text x="293.2" y="387.0" font-size="7.9" font-weight="bold" text-anchor="middle" fill="#000" stroke="#000" stroke-width="0.25" >100%</text>
<text x="205.7" y="400.9" font-size="7.9" font-weight="bold" text-anchor="middle" fill="#000" stroke="#000" stroke-width="0.25" >Liver</text>
<text x="249.9" y="400.9" font-size="7.9" font-weight="bold" text-anchor="middle" fill="#000" stroke="#000" stroke-width="0.25" >25%</text>
<text x="293.2" y="400.9" font-size="7.9" font-weight="bold" text-anchor="middle" fill="#000" stroke="#000" stroke-width="0.25" >80%</text>
<text x="205.7" y="413.6" font-size="7.9" font-weight="bold" text-anchor="middle" fill="#000" stroke="#000" stroke-width="0.25" >Kidney</text>
<text x="249.9" y="413.6" font-size="7.9" font-weight="bold" text-anchor="middle" fill="#000" stroke="#000" stroke-width="0.25" >0%</text>
<text x="293.2" y="413.6" font-size="7.9" font-weight="bold" text-anchor="middle" fill="#000" stroke="#000" stroke-width="0.25" >40%</text>
<line x1="349.2" y1="299" x2="349.2" y2="400.6" stroke="#000" stroke-width="1.3"/>
<line x1="348.6" y1="400" x2="514" y2="400" stroke="#000" stroke-width="1.3"/>
<line x1="345.6" y1="309.0" x2="349.2" y2="309.0" stroke="#000" stroke-width="1"/>
<line x1="345.6" y1="354.5" x2="349.2" y2="354.5" stroke="#000" stroke-width="1"/>
<line x1="404.2" y1="400" x2="404.2" y2="403" stroke="#000" stroke-width="1"/>
<line x1="459.2" y1="400" x2="459.2" y2="403" stroke="#000" stroke-width="1"/>
<line x1="514.2" y1="400" x2="514.2" y2="403" stroke="#000" stroke-width="1"/>
<text x="345.5" y="311.5" font-size="7.4" font-weight="bold" text-anchor="end" fill="#000" stroke="#000" stroke-width="0.25" >100</text>
<text x="345.5" y="357.0" font-size="7.4" font-weight="bold" text-anchor="end" fill="#000" stroke="#000" stroke-width="0.25" >50</text>
<text x="349.2" y="412.1" font-size="7.4" font-weight="bold" text-anchor="middle" fill="#000" stroke="#000" stroke-width="0.25" >0</text>
<text x="404.2" y="412.1" font-size="7.4" font-weight="bold" text-anchor="middle" fill="#000" stroke="#000" stroke-width="0.25" >50</text>
<text x="459.2" y="412.1" font-size="7.4" font-weight="bold" text-anchor="middle" fill="#000" stroke="#000" stroke-width="0.25" >100</text>
<text x="514.2" y="412.1" font-size="7.4" font-weight="bold" text-anchor="middle" fill="#000" stroke="#000" stroke-width="0.25" >150</text>
<text x="428.3" y="420.3" font-size="8.1" font-weight="bold" text-anchor="middle" fill="#000" stroke="#000" stroke-width="0.25" >Days elapsed</text>
<text transform="translate(333.1,356.5) rotate(-90)" font-size="8.2" font-weight="bold" text-anchor="middle" fill="#000" stroke="#000" stroke-width="0.25">Percent survival</text>
<polyline points="349.2,309.0 380.0,309.0 380.0,327.2 391.0,327.2 391.0,363.6 394.3,363.6 394.3,381.8 404.2,381.8 404.2,400.0" fill="none" stroke="#9a9a9a" stroke-width="1.4"/>
<polyline points="349.2,309.0 391.0,309.0 391.0,327.2 394.3,327.2 394.3,345.4 420.7,345.4 420.7,381.8 490.0,381.8 490.0,400.0" fill="none" stroke="#111" stroke-width="1.5"/>
<line x1="437.2" y1="307.2" x2="452.2" y2="307.2" stroke="#111" stroke-width="1.5"/>
<line x1="437.2" y1="333.1" x2="452.2" y2="333.1" stroke="#9a9a9a" stroke-width="1.5"/>
<text x="481.5" y="305.4" font-size="10" font-weight="bold" text-anchor="middle" fill="#000" stroke="#000" stroke-width="0.25" >HPAC GFP</text>
<text x="481.5" y="316.9" font-size="10" font-weight="bold" text-anchor="middle" fill="#000" stroke="#000" stroke-width="0.25" >&amp; FB-VEC</text>
<text x="481.5" y="330.9" font-size="10" font-weight="bold" text-anchor="middle" fill="#000" stroke="#000" stroke-width="0.25" >HPAC GFP</text>
<text x="481.5" y="342.8" font-size="10" font-weight="bold" text-anchor="middle" fill="#000" stroke="#000" stroke-width="0.25" >&amp; FB-OSM</text>
</g>
</svg>
</body></html>
